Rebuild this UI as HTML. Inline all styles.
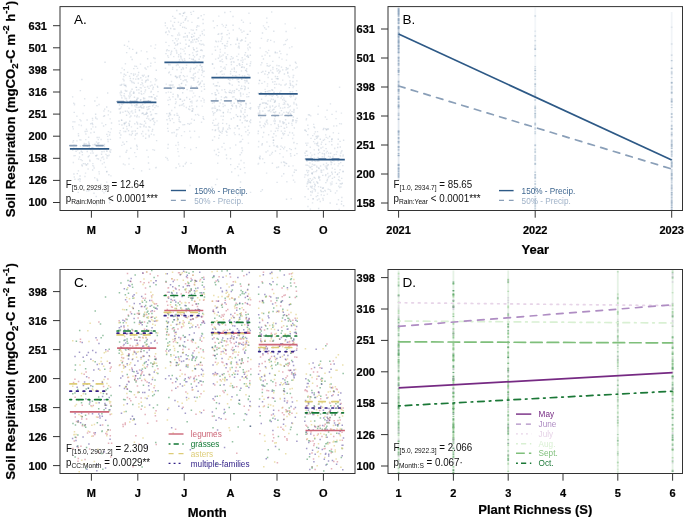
<!DOCTYPE html><html><head><meta charset="utf-8"><style>html,body{margin:0;padding:0;background:#fff;width:685px;height:519px;overflow:hidden}
svg{display:block;will-change:transform}
text{font-family:"Liberation Sans", sans-serif}
.tk{font-size:11px;font-weight:bold;fill:#000;stroke:#000;stroke-width:0.2px}
.yt{font-size:13.25px;font-weight:bold;fill:#000;stroke:#000;stroke-width:0.2px}
.xt{font-size:13px;font-weight:bold;fill:#000;stroke:#000;stroke-width:0.2px}
.pl{font-size:13.5px;fill:#000}
.st{font-size:10.3px;fill:#111}
.lg{font-size:8.2px}
</style></head><body>
<svg width="685" height="519" viewBox="0 0 685 519">
<rect width="685" height="519" fill="#fff"/>
<path d="M96.3 105.62h1.4M106.97 93.03h1.4M102.21 157h1.4M80.63 151.2h1.4M83.57 143.36h1.4M106.04 151.04h1.4M72.01 126.77h1.4M103.99 109.14h1.4M103.05 145.5h1.4M90.14 123.76h1.4M83.68 105.63h1.4M82.71 163.65h1.4M81.79 148.34h1.4M89.25 160.98h1.4M91.58 123.29h1.4M93.5 132.23h1.4M110.82 123.03h1.4M102.87 126.06h1.4M96.19 155.28h1.4M110.57 128.86h1.4M80.24 159.61h1.4M78.08 159.17h1.4M95.81 204.68h1.4M73.52 112.39h1.4M73.2 173.97h1.4M91.98 147.58h1.4M90.08 149.62h1.4M107.75 110.85h1.4M96.47 137.57h1.4M91.95 170.07h1.4M91.28 147.77h1.4M81.5 152.19h1.4M72.26 142.15h1.4M79.34 181.17h1.4M98.93 149.42h1.4M79.66 90.59h1.4M86.29 131.31h1.4M71.95 96.84h1.4M104.34 62.21h1.4M77.85 135.69h1.4M82.29 186.01h1.4M106.31 151.27h1.4M91.78 118.34h1.4M105.01 124.6h1.4M96.88 180.53h1.4M100.88 154.26h1.4M75.39 151.3h1.4M93.01 148.56h1.4M91.7 151.04h1.4M105.96 171.75h1.4M85.96 164.92h1.4M95.25 155.82h1.4M74.12 121.84h1.4M87 163.8h1.4M84.46 131.53h1.4M77.69 179.53h1.4M103.8 115.68h1.4M86.67 146.28h1.4M110.17 149.8h1.4M94.93 114.23h1.4M95.52 196.49h1.4M96.81 189.43h1.4M98.32 137.48h1.4M77.71 170.84h1.4M89.06 160.22h1.4M81.19 79.43h1.4M87.58 156.76h1.4M75.59 148.34h1.4M109.74 152.25h1.4M80.23 120.92h1.4M98.13 142.73h1.4M83.58 145.19h1.4M106.06 182.08h1.4M97.76 159.03h1.4M76.96 149.85h1.4M104.93 191.28h1.4M108.84 135.01h1.4M107.23 139.49h1.4M94.13 100.95h1.4M77.5 192.37h1.4M79.34 176.04h1.4M108.17 174.75h1.4M93.45 168.06h1.4M78.88 152.97h1.4M106.46 155.82h1.4M96.95 143.2h1.4M94.13 144.5h1.4M86.55 151.47h1.4M87.91 190.82h1.4M81.19 165h1.4M73.29 148.42h1.4M106.15 134.36h1.4M90.14 132.86h1.4M93.27 193.27h1.4M84.43 163.68h1.4M101.25 151.82h1.4M72.79 140.65h1.4M86.39 120.06h1.4M72.99 148.19h1.4M76.62 173.59h1.4M109.71 139.4h1.4M97.58 143.86h1.4M88.59 144.03h1.4M92.33 152.96h1.4M106.01 106.99h1.4M85.29 143.64h1.4" stroke="#62809f" stroke-width="1.4" stroke-opacity="0.22" fill="none"/>
<path d="M94.94 126.93h1.4M98.6 173.88h1.4M85.73 129.19h1.4M92.15 165.58h1.4M101.8 191.16h1.4M107.44 141.53h1.4M77.72 133.76h1.4M108.39 155.17h1.4M72 149.95h1.4M101.32 123.17h1.4M103.57 162.44h1.4M77.16 204.42h1.4M88.22 143.03h1.4M103.76 144.52h1.4M72.36 121.79h1.4M96.44 158.62h1.4M102.89 116.33h1.4M91.91 120.11h1.4M100.25 184.55h1.4M80.68 125.55h1.4M79.58 179.2h1.4M86.03 191.16h1.4M78.83 157h1.4M85.37 164.94h1.4M108.97 202.71h1.4M94.27 144.69h1.4M85.13 133.99h1.4M82.44 113.46h1.4M109.12 151.13h1.4M89.22 189.94h1.4M110.23 175.91h1.4M92.01 124.56h1.4M92.23 126.9h1.4M106.94 136.39h1.4M100.92 157.89h1.4M94.56 144.46h1.4M88.52 155.79h1.4M106.22 158.01h1.4M87.94 141.93h1.4M107.97 148.92h1.4M74.49 155.58h1.4M88.66 147.73h1.4M92.16 163.6h1.4M109.08 200.51h1.4M81.64 165.98h1.4M103.4 151.51h1.4M98.32 104.47h1.4M99.91 160.47h1.4M96.48 97.44h1.4M109.89 111.96h1.4M84.84 173.08h1.4M87.41 169.07h1.4M79.75 145.95h1.4M73.79 103.83h1.4M80.15 139.97h1.4M107.69 131.67h1.4M104.73 167.19h1.4M95.47 155.86h1.4M90.58 128.96h1.4M95.11 118.4h1.4M97.64 148.49h1.4M83.82 145.23h1.4M109.48 118.91h1.4M90.06 153.14h1.4M96.42 118.93h1.4M96.7 180.03h1.4M79.01 178.69h1.4M74.23 179.29h1.4M87.93 137.2h1.4M101.75 163.89h1.4M103.76 146.43h1.4M100.42 139.5h1.4M76.24 140.84h1.4M107.6 114.91h1.4M103.24 111.02h1.4M106.21 171.45h1.4M92.31 144.84h1.4M107.69 155.84h1.4M73.63 177.05h1.4M72.99 103.21h1.4M72.59 128.83h1.4M81.71 154.73h1.4M81.54 160.59h1.4M79.15 139.82h1.4M94.03 177.79h1.4M73.33 155.68h1.4M94.94 117.24h1.4M78.31 124.87h1.4M98.37 171.75h1.4M72.63 162.52h1.4M83.97 98.73h1.4M108.58 186.39h1.4M92.91 166.15h1.4M103.61 186.27h1.4M97.59 139.64h1.4M95.74 142.02h1.4M79.3 119.59h1.4M73.36 145.26h1.4M103.23 192.86h1.4M109.43 132.52h1.4M105.28 154.42h1.4M73.79 104.87h1.4M85.08 139.66h1.4M84.27 176.56h1.4M76.22 116.2h1.4M96.36 178.95h1.4M103.06 159.11h1.4" stroke="#96a8be" stroke-width="1.4" stroke-opacity="0.28" fill="none"/>
<path d="M154.74 113.66h1.4M119.75 112.11h1.4M135.95 145.26h1.4M142.94 98.81h1.4M139.79 64.13h1.4M121.11 84.34h1.4M141.45 80.1h1.4M126.91 72.34h1.4M125.87 115.32h1.4M152.64 87.22h1.4M125.96 52.59h1.4M136.01 122.12h1.4M147.61 101.1h1.4M145.93 113.28h1.4M139.9 106.75h1.4M149.84 120.42h1.4M136.46 104.99h1.4M142.52 136.14h1.4M150.3 115.05h1.4M144.78 114.19h1.4M143.36 114.66h1.4M134.12 66.13h1.4M140.09 99.72h1.4M133.73 97.26h1.4M147.38 109.4h1.4M133.11 68.67h1.4M136.49 146.49h1.4M147.81 106.71h1.4M137.94 72.51h1.4M131.45 59.57h1.4M150.61 96.69h1.4M133.13 101.67h1.4M151.31 85.32h1.4M148.98 106.39h1.4M135.73 87.33h1.4M146.15 118.34h1.4M119.55 85.16h1.4M133.48 103h1.4M151.93 129.45h1.4M140.92 170.86h1.4M140.07 77.8h1.4M144.26 91.92h1.4M144.76 82.16h1.4M141.08 124.39h1.4M134.69 74.15h1.4M125.39 91.41h1.4M129.67 103.23h1.4M129.68 78.55h1.4M135.09 79.11h1.4M157.36 91.63h1.4M132.02 49.39h1.4M135.74 66.42h1.4M132.77 93.26h1.4M140.99 107.85h1.4M155.36 99.17h1.4M153.05 57.88h1.4M132.98 91.94h1.4M128.66 124.76h1.4M152.87 118.45h1.4M137.56 101.95h1.4M145.07 80.93h1.4M121.07 120.41h1.4M152.17 88.95h1.4M130.47 73.6h1.4M137.59 83.14h1.4M125.96 141.66h1.4M134.67 109.72h1.4M150.66 134.14h1.4M150.64 91.54h1.4M136.77 128.39h1.4M148.3 88.36h1.4M136.16 99.91h1.4M132.84 168.65h1.4M139.6 123.95h1.4M126.09 90.97h1.4M130.61 101.79h1.4M145.9 112.48h1.4M148.4 135.47h1.4M120.42 91.28h1.4M146.93 58.73h1.4M150.24 96.73h1.4M135.65 104.4h1.4M120.65 106.85h1.4M144.97 138.23h1.4M127.85 112.23h1.4M143.42 125.14h1.4M132.96 75.37h1.4M143.18 126.57h1.4M128.32 158.5h1.4M136.88 124.1h1.4M138.77 110.59h1.4M142.94 108h1.4M126.16 150.47h1.4M155.91 79.89h1.4M129.53 101.11h1.4M130.2 115.97h1.4M128.25 123.34h1.4M120.85 92.63h1.4M134.78 111.99h1.4M148.46 96.77h1.4M146.02 107.13h1.4M125.87 100.57h1.4M123.57 74.32h1.4M130.8 103.45h1.4M148.32 126.81h1.4M137.33 78.86h1.4M154.39 97.73h1.4M143.93 121.28h1.4M142.54 76.18h1.4M148.29 108.75h1.4M147.61 76.44h1.4M131.68 133.5h1.4M128.27 164.13h1.4M135.35 156.58h1.4M137.38 98.3h1.4M123.76 123.25h1.4M135.5 107.15h1.4M143.28 106.65h1.4M123.52 144.24h1.4M123.61 69.7h1.4M125.01 131.44h1.4M129.31 102.73h1.4M155.9 140.62h1.4M119.21 108.87h1.4M125.4 86.51h1.4M124.67 111.21h1.4M136.79 123.14h1.4M118.79 104.93h1.4M136.16 116.69h1.4M124.59 90.44h1.4M128.77 48.52h1.4M149.26 127.4h1.4M125.42 122.18h1.4M142.39 107.85h1.4M134.13 105.78h1.4M134.57 130.94h1.4M150.22 92.12h1.4M124.51 85.63h1.4M154.41 99.1h1.4M153.22 134.92h1.4M144.4 67.94h1.4M120.14 134.99h1.4M144.2 87.38h1.4M141.73 75.38h1.4M148.47 136.76h1.4M126.58 101.48h1.4M155.57 70.19h1.4M152.94 94.67h1.4M122.68 128.21h1.4M130.56 134.99h1.4M119.47 92.9h1.4M150.77 114.56h1.4M154.07 122.57h1.4M157 87.24h1.4M142.19 113.23h1.4M144.31 103.17h1.4M144.79 90.06h1.4M140.55 91.2h1.4M155.53 105.74h1.4M142.03 104.78h1.4M131.36 89.3h1.4M138.3 92.93h1.4M118.93 132.95h1.4M146.59 109.56h1.4M145.4 127.01h1.4M134.71 135.25h1.4M151.58 119.31h1.4M147.82 163.04h1.4M131.4 82.54h1.4M121.24 125.02h1.4M123.38 95.73h1.4M125.42 152.25h1.4M130.11 148.21h1.4M135.74 53.19h1.4M154.58 78.81h1.4M129.11 121.27h1.4M153.42 124.54h1.4M144.87 123.15h1.4M151.66 102.16h1.4M134.01 115.83h1.4M118.33 120.98h1.4M149.05 101.98h1.4M127.82 130.71h1.4M123.79 45.25h1.4M149.54 120.48h1.4" stroke="#62809f" stroke-width="1.4" stroke-opacity="0.22" fill="none"/>
<path d="M145.1 77.11h1.4M126.53 128.93h1.4M128.69 98.05h1.4M155.02 80.89h1.4M128.73 113.72h1.4M145.73 80.31h1.4M123.28 80.27h1.4M150.15 63.25h1.4M122.81 103.31h1.4M138.43 116.92h1.4M119.58 130.6h1.4M139.76 100.32h1.4M151.39 131.24h1.4M121.51 104.47h1.4M128.95 101.57h1.4M148.18 118.91h1.4M142.04 131.52h1.4M130.46 95.12h1.4M142.85 97.66h1.4M136.02 99.82h1.4M152 106.15h1.4M129.68 80.59h1.4M147.9 130.73h1.4M143.12 93.59h1.4M147.22 116.02h1.4M133.03 82.54h1.4M146.62 113.33h1.4M145.58 114.18h1.4M133.39 93.06h1.4M119.24 156.54h1.4M155.95 113.65h1.4M146.17 150.2h1.4M126.23 128.94h1.4M146.85 86.78h1.4M129.12 94.06h1.4M136.6 115.34h1.4M151.91 105.59h1.4M135.76 105.29h1.4M129.49 96.56h1.4M130.18 56.98h1.4M121.22 98.14h1.4M126.8 46.33h1.4M128.83 113.67h1.4M124.98 85.12h1.4M120.67 85.4h1.4M136.46 98.3h1.4M126.6 111.09h1.4M147.16 66.77h1.4M154.36 58.54h1.4M128.9 76.28h1.4M140.63 50.92h1.4M138.06 78.86h1.4M121.14 145.36h1.4M123.1 76.53h1.4M152.88 120.94h1.4M136.79 68.34h1.4M149.74 111.78h1.4M120.81 95.69h1.4M141.52 102.44h1.4M152.12 118.79h1.4M152.19 149.66h1.4M118.42 109.06h1.4M138.65 107.23h1.4M132.66 78.69h1.4M147.99 119.17h1.4M121.07 97.6h1.4M128.59 125.63h1.4M150.06 102.86h1.4M136.61 149.26h1.4M135.96 52.44h1.4M156.17 96.29h1.4M130.74 126.92h1.4M119.84 94.88h1.4M133.57 83.4h1.4M124.21 97.09h1.4M121.41 68.12h1.4M140.46 107.09h1.4M155.58 167.45h1.4M140.91 133.77h1.4M143.57 75.17h1.4M130.89 81.29h1.4M140.59 93.48h1.4M147.69 130.11h1.4M141.3 82.64h1.4M149.67 86.05h1.4M139.78 127h1.4M125.97 126.48h1.4M141.04 94.28h1.4M137.44 74.94h1.4M124.7 63.71h1.4M142.47 85.83h1.4M150.22 46.01h1.4M123.5 123.5h1.4M139.56 87.62h1.4M146.96 116.51h1.4M134 152.58h1.4M128.79 134.5h1.4M132.79 74.07h1.4M139.43 126.6h1.4M145.12 134.1h1.4M140.12 84.59h1.4M122.4 79.21h1.4M150.26 101.15h1.4M154.42 62.36h1.4M122.17 142.24h1.4M127.98 41.46h1.4M125.01 75.22h1.4M151.49 96.99h1.4M153.88 98.1h1.4M119.94 108.32h1.4M131.23 111.06h1.4M125.75 98.45h1.4M136.61 133.56h1.4M154.33 48.38h1.4M120.95 104h1.4M124.91 85.42h1.4M137.29 107.45h1.4M138.74 109.74h1.4M147.42 80.29h1.4M135.36 87.34h1.4M123.73 124.61h1.4M132.06 113.08h1.4M156.7 86.31h1.4M147.63 157.04h1.4M122.76 164.04h1.4M149.88 65.98h1.4M130.39 111.85h1.4M148.83 169.23h1.4M118.7 124.38h1.4M152.35 109.75h1.4M124.56 98.59h1.4M136.07 89.93h1.4M144.14 98.47h1.4M138.11 89.68h1.4M124.68 123.37h1.4M123.65 93.65h1.4M129.35 92.53h1.4M120.25 72.74h1.4M126.69 102.71h1.4M123.3 80.75h1.4M136.42 99.3h1.4M132.18 131.09h1.4M141.2 113.51h1.4M129.21 117.12h1.4M119.53 113.26h1.4M131.18 105.54h1.4M147.8 100.69h1.4M128.23 96h1.4M134.06 123.74h1.4M147.79 75.81h1.4M134.14 138.86h1.4M152.98 104.89h1.4M154.19 84.53h1.4M130.37 91.28h1.4M147.05 86.4h1.4M128.12 108.17h1.4M123.67 85.34h1.4M135.36 133.7h1.4M141.82 83.68h1.4M154.88 44.91h1.4M123.92 84.99h1.4M146.12 51.78h1.4M136.84 102.96h1.4M123.36 131.54h1.4M156.33 120.84h1.4M145.47 69.22h1.4M123.25 84.18h1.4M153.71 150.24h1.4M122.24 112.28h1.4M121.83 104.11h1.4M131.2 131.46h1.4M154.97 167.77h1.4M119.49 137.71h1.4M154.19 107.62h1.4M142.18 113.22h1.4M120.83 120.04h1.4M140.49 88.07h1.4M136.18 76.47h1.4M140.31 105.36h1.4M147.1 79.37h1.4M144.8 102.4h1.4M157.29 106.5h1.4M124.34 164.87h1.4M150.06 81.87h1.4M134.31 100.83h1.4" stroke="#96a8be" stroke-width="1.4" stroke-opacity="0.28" fill="none"/>
<path d="M200.48 15.79h1.4M196 106.5h1.4M170.91 51.3h1.4M183.31 88.19h1.4M183.88 124.61h1.4M203.39 100.05h1.4M168.01 72.89h1.4M184.62 163.9h1.4M200.44 100.83h1.4M180.23 56.69h1.4M174.86 103.61h1.4M186.39 89.61h1.4M177.15 35.04h1.4M200.94 75.15h1.4M167.92 64.88h1.4M167.89 64.56h1.4M192.51 59.78h1.4M176.09 53.07h1.4M199.63 56.68h1.4M201.31 70.29h1.4M174.64 76.4h1.4M164.63 22.97h1.4M179.79 99.31h1.4M202.33 19.51h1.4M194.54 62.34h1.4M166.94 128.35h1.4M192.14 42.11h1.4M200.55 49.95h1.4M202.53 118.34h1.4M192.67 55.42h1.4M198.43 59.18h1.4M197.59 81.55h1.4M178.65 117.29h1.4M193.12 36.25h1.4M169.97 28.53h1.4M179.66 25.19h1.4M203.63 35.13h1.4M186.54 35.81h1.4M185.05 84.99h1.4M201.76 33.69h1.4M175.73 77.27h1.4M203.78 89.28h1.4M200.35 40.58h1.4M178.87 77.62h1.4M177.43 142.46h1.4M169.56 85.86h1.4M200.49 44.57h1.4M171.88 69.21h1.4M164.95 32.61h1.4M199.49 83.64h1.4M188.05 109.06h1.4M190.94 36.81h1.4M193.34 63.01h1.4M166.27 119.77h1.4M168.2 50.64h1.4M184.19 80.07h1.4M166.57 28.06h1.4M184.37 36.85h1.4M193.46 50.01h1.4M190.37 163.41h1.4M188.77 54.82h1.4M166.42 49.74h1.4M173.88 48.35h1.4M199.78 65.04h1.4M169.43 99.55h1.4M185.5 79.96h1.4M166.56 158.43h1.4M201.42 80.98h1.4M171.33 132.79h1.4M180.67 83.62h1.4M186.03 97.43h1.4M192.77 11.37h1.4M201.35 66.66h1.4M193.47 69.1h1.4M178.22 61.8h1.4M192.33 108.99h1.4M202.72 55.74h1.4M165.27 53.6h1.4M194.97 61.28h1.4M171.5 62.42h1.4M182.63 89.1h1.4M185.09 18.62h1.4M188.69 32.9h1.4M203.39 84.21h1.4M191.55 78.11h1.4M179.98 56.18h1.4M192.63 47.9h1.4M182.9 36.95h1.4M180.79 69.55h1.4M178.93 121.59h1.4M183.94 27.56h1.4M175.62 135.98h1.4M174.09 107.45h1.4M170.42 52.98h1.4M181.86 104.89h1.4M176.1 10.43h1.4M197.84 17.83h1.4M178.08 54.79h1.4M188.87 58.33h1.4M199.97 50.36h1.4M178.68 76.18h1.4M181.99 92.8h1.4M190.09 12.39h1.4M202.22 44.24h1.4M170.03 54.66h1.4M202.44 23.44h1.4M190.7 14.42h1.4M195.8 29.74h1.4M189.5 71.5h1.4M198.72 96.78h1.4M177.39 95.7h1.4M192.36 30.23h1.4M174.95 38.75h1.4M184.54 33.33h1.4M191.31 90.89h1.4M167 124.01h1.4M195.61 51.64h1.4M196.31 39.09h1.4M190.69 86.26h1.4M177.2 115.37h1.4M190.4 86.39h1.4M167.89 116.22h1.4M190.57 77.64h1.4M187.19 123.64h1.4M188.79 124.3h1.4M182.12 67.82h1.4M173.43 132.45h1.4M193.05 78.92h1.4M182.79 75.65h1.4M193.82 33.3h1.4M178.88 59.87h1.4M168.04 104.66h1.4M185.86 16.87h1.4M189.01 99.28h1.4M200.73 86.64h1.4M199.4 83.66h1.4M194.86 67.66h1.4M174.85 99.23h1.4M191.93 39.96h1.4M179.48 75.79h1.4M183.74 100.2h1.4M185.4 44.18h1.4M191.82 108.6h1.4M191.19 101.08h1.4M179.66 62.05h1.4M191.15 105.92h1.4M178.14 33.12h1.4M188.42 46.02h1.4M182.61 166.18h1.4M186.66 37.14h1.4M165.29 42.35h1.4M184.15 60.38h1.4M173.22 29.05h1.4M179.72 122h1.4M167.49 144.45h1.4M190.35 42.43h1.4M178.5 121.22h1.4M168.72 118.55h1.4M188.91 106.51h1.4M169.58 120.57h1.4M199.55 35.56h1.4M169.4 64.92h1.4M178.79 13.87h1.4M183.99 12.44h1.4M169.22 113.21h1.4M177.09 43.78h1.4M175.39 167.74h1.4M192.56 75.12h1.4M203.26 45.1h1.4M178.82 105.51h1.4M195.6 147.65h1.4M170.1 92.42h1.4M187.33 20.88h1.4M181.56 87.58h1.4M175.9 129.78h1.4M196.81 51.28h1.4M193.86 39.51h1.4M169.85 114.69h1.4M176.06 77.88h1.4M196.72 25.69h1.4M203.5 56.05h1.4M188.57 40.26h1.4M198.77 84.44h1.4M203.18 76.61h1.4M193.63 120.32h1.4M189.87 101.81h1.4M179.12 89.09h1.4M189.04 109.67h1.4M200.91 91.15h1.4M176.43 115.26h1.4M180.09 48.92h1.4M165.47 32.07h1.4M191.91 111.06h1.4M181.99 27.25h1.4M173.76 115.06h1.4M190.46 41.58h1.4M190.99 59.15h1.4M182.8 13.28h1.4M171.99 16.33h1.4M180.39 23.42h1.4M193.81 56.85h1.4M172.02 87.54h1.4M182.74 103.59h1.4M173.79 22.36h1.4" stroke="#62809f" stroke-width="1.4" stroke-opacity="0.22" fill="none"/>
<path d="M195.98 27.21h1.4M196.64 100.47h1.4M201.65 68.87h1.4M189.98 149.47h1.4M171.93 35.85h1.4M196.86 82.39h1.4M193.14 80.4h1.4M193.88 131.28h1.4M191.94 52.86h1.4M197.14 114.34h1.4M176.28 40.84h1.4M190.96 119.13h1.4M184.88 39.95h1.4M177.84 56.79h1.4M177.41 151.63h1.4M170.69 85.31h1.4M183.87 76.61h1.4M179.05 166.17h1.4M181.12 87.18h1.4M197.99 37.72h1.4M191.32 102.85h1.4M191.27 22.37h1.4M203.17 119.39h1.4M173.14 122.65h1.4M184.51 47.94h1.4M168.23 45.63h1.4M180 79.41h1.4M201.85 72.59h1.4M167.97 30.94h1.4M194.3 95.86h1.4M184.55 53.82h1.4M195.87 55.03h1.4M181.89 60.52h1.4M178.45 84.9h1.4M184.42 20.42h1.4M172.23 96.72h1.4M176.65 64.43h1.4M176.57 44.69h1.4M203.35 14.59h1.4M177.74 22.31h1.4M173.57 87.13h1.4M201.44 31.52h1.4M170.03 74.7h1.4M202.46 116.6h1.4M198.05 115.37h1.4M189.96 137.54h1.4M181.37 59.56h1.4M172.33 26.42h1.4M168.76 114.86h1.4M168.66 85h1.4M178.29 119.21h1.4M180.56 72.46h1.4M200.81 122.22h1.4M185.62 107.55h1.4M203.43 102.09h1.4M192.86 93.15h1.4M170.33 88.7h1.4M186.3 81.79h1.4M170.85 81.49h1.4M166.14 113.59h1.4M201.6 50.5h1.4M177.84 144.9h1.4M172.03 67.54h1.4M168.59 113.39h1.4M190.16 68.21h1.4M182.68 61.64h1.4M165.06 157.35h1.4M192.64 59.01h1.4M174.66 18.36h1.4M195.2 42.01h1.4M183.75 58.68h1.4M185.59 162.52h1.4M182.52 80.68h1.4M191.1 111.26h1.4M203.41 29.93h1.4M195.88 86.81h1.4M167.31 100.2h1.4M184 147.67h1.4M173.78 42.76h1.4M168.61 97.35h1.4M172.25 84.71h1.4M174.33 29.09h1.4M202.22 71.18h1.4M193.8 60.93h1.4M191.99 97.14h1.4M176.97 94.69h1.4M179.93 53.56h1.4M181.87 15.78h1.4M176.1 134.15h1.4M181.12 83.17h1.4M194.83 114.7h1.4M167.57 131.23h1.4M175.44 50.12h1.4M183.38 106.11h1.4M191.11 61.87h1.4M189.92 69.37h1.4M193.02 68.4h1.4M168.73 71.94h1.4M171.69 118.79h1.4M176.71 77.2h1.4M175.64 65.54h1.4M194.22 60.39h1.4M203.54 86.34h1.4M191.38 34.42h1.4M165.9 50.89h1.4M176.27 69.8h1.4M196.08 48.23h1.4M200.83 67.02h1.4M187.92 46.35h1.4M178.27 156.17h1.4M178.52 127.82h1.4M189.43 90.9h1.4M198.48 69.75h1.4M177.96 164.01h1.4M172.08 85.56h1.4M164.71 68.35h1.4M169.99 84.73h1.4M197.97 84.85h1.4M189.08 131.23h1.4M203.43 71.2h1.4M167.32 160.17h1.4M178.95 34.96h1.4M195.79 101.15h1.4M190.52 29.92h1.4M167.21 148.32h1.4M180.34 58.12h1.4M189.6 69.56h1.4M191.56 110.82h1.4M182.31 124.72h1.4M171.98 25.3h1.4M202.46 57.46h1.4M182.89 13.41h1.4M192.72 77.77h1.4M185.57 67.74h1.4M167.76 57.34h1.4M173.88 43.25h1.4M167.07 55.79h1.4M172.08 40.65h1.4M172.45 94.22h1.4M180.86 135.67h1.4M178.81 67.13h1.4M196.62 54.44h1.4M165.44 92.68h1.4M168.65 32.03h1.4M196.27 65.85h1.4M185.53 28.34h1.4M181.8 101.26h1.4M175.08 76.17h1.4M185.86 65.22h1.4M173.29 87.55h1.4M198.25 61.65h1.4M177.22 97.02h1.4M165.56 84.11h1.4M199.4 65.53h1.4M176.31 113.37h1.4M190.35 123.18h1.4M198.24 26.12h1.4M195.9 39.19h1.4M198.41 136.99h1.4M183.77 131.59h1.4M197.62 40.99h1.4M182.68 22.41h1.4M174.94 45.22h1.4M183.45 51.08h1.4M194.67 73.31h1.4M197.2 18.23h1.4M170.13 21.16h1.4M171.05 110.48h1.4M179.64 43.31h1.4M182.76 69h1.4M202.09 98.42h1.4M201.51 106.16h1.4M202.51 57.85h1.4M193.21 73.85h1.4M191.15 37.33h1.4M175.2 145.39h1.4M179.21 99.3h1.4M164.71 25.66h1.4M197.25 72.17h1.4M175.42 101.97h1.4M167.71 92.14h1.4M176.97 148.83h1.4M177.27 129.64h1.4M192.98 49.35h1.4M164.82 68.25h1.4M173.62 18.18h1.4M199.74 82.48h1.4M198.11 78.34h1.4M189.26 185.55h1.4M186.51 76.1h1.4M198.9 43.77h1.4M194.42 76.72h1.4M184.71 19.25h1.4M170.91 35.58h1.4M173.06 56.64h1.4M179.47 86.36h1.4M177.58 65.06h1.4M166.99 34.65h1.4M180.53 105.08h1.4M182.19 49.34h1.4M175.85 51.03h1.4M179.66 14.05h1.4M177.63 38.99h1.4M179.37 99.37h1.4" stroke="#96a8be" stroke-width="1.4" stroke-opacity="0.28" fill="none"/>
<path d="M244.38 109.7h1.4M211.13 187.27h1.4M241.81 75.9h1.4M237.16 101.47h1.4M211.75 103.1h1.4M239.81 92.95h1.4M237.39 59.74h1.4M223.29 143.39h1.4M244.76 77.84h1.4M219.24 56.9h1.4M227.73 79.26h1.4M215.51 94.66h1.4M236.31 65.6h1.4M214.41 85.89h1.4M218.04 33.83h1.4M241.04 78.99h1.4M230.61 119.03h1.4M236.95 166.77h1.4M239.77 116.26h1.4M234.78 98.88h1.4M218.75 135.35h1.4M238.38 128.76h1.4M215.54 154.55h1.4M221.58 131.31h1.4M228.57 83.29h1.4M215.49 98.34h1.4M215.15 95.17h1.4M236.57 100.09h1.4M240.08 96.01h1.4M225.53 56.7h1.4M219.14 61.13h1.4M233.75 90.72h1.4M247.6 88.18h1.4M212.59 20.98h1.4M246.62 115.53h1.4M249.83 122.67h1.4M224.57 91.83h1.4M239.45 154.71h1.4M243.33 162.87h1.4M236.52 39.76h1.4M222.33 129.47h1.4M235.42 105.63h1.4M245.37 104.73h1.4M215.2 125.38h1.4M229.81 59.23h1.4M211.89 64.31h1.4M244.12 54.93h1.4M241.52 57.8h1.4M212.8 84.06h1.4M240.24 29.93h1.4M238.11 46.17h1.4M215.95 111.1h1.4M231.59 85.16h1.4M238.02 103.32h1.4M224.15 12.43h1.4M230.75 56.65h1.4M249.26 65.78h1.4M235.92 89.3h1.4M230.68 64.55h1.4M213.59 125.33h1.4M215.75 85.67h1.4M244.35 88.68h1.4M240.11 88.54h1.4M243.74 116.32h1.4M233.66 69.14h1.4M233.58 132.9h1.4M231.8 106.4h1.4M239.82 94.16h1.4M223.94 89.67h1.4M230.47 108.81h1.4M229.41 128.62h1.4M236.94 125.82h1.4M219.48 103.03h1.4M211.98 123.07h1.4M214.47 92.73h1.4M218.03 138.1h1.4M244.6 86.94h1.4M240.4 141.52h1.4M228.41 92.31h1.4M215.03 41.16h1.4M229.24 80.07h1.4M244.83 52.65h1.4M230.96 172.01h1.4M235.77 107.91h1.4M225.67 25.25h1.4M216.88 109.85h1.4M235.56 72.05h1.4M230.01 164.67h1.4M224.55 45.89h1.4M238.28 90.63h1.4M223.46 74.08h1.4M233.58 71.34h1.4M240.53 105.07h1.4M225.7 154.93h1.4M229.76 11.64h1.4M247.36 134.85h1.4M239.16 65.25h1.4M239.86 181.96h1.4M224.3 105.44h1.4M243.94 80.49h1.4M226.12 132.22h1.4M249.74 109.04h1.4M246.12 64.3h1.4M236.84 116.41h1.4M243.59 67.57h1.4M232.33 16.46h1.4M239.74 169.26h1.4M215.89 74.02h1.4M249.75 63.64h1.4M242.37 101.55h1.4M216.58 25.61h1.4M220.51 33.86h1.4M233.54 68.01h1.4M240.9 67.21h1.4M216.84 90.88h1.4M248.66 132.9h1.4M224.56 69.04h1.4M250 107.71h1.4M240.5 112.06h1.4M230.03 44.64h1.4M225.22 97.14h1.4M214.78 50.29h1.4M214.45 130.56h1.4M235.67 106.2h1.4M241.32 88.66h1.4M246.58 34.41h1.4M225.31 92.64h1.4M247.76 57.32h1.4M222.64 116.24h1.4M247.84 83.23h1.4M247.02 55.51h1.4M217.08 125.02h1.4M244.74 116.86h1.4M238.58 64.27h1.4M238.54 134.48h1.4M243.94 76.06h1.4M232.04 75.63h1.4M230.87 92.95h1.4M225.39 57.89h1.4M244.92 70.33h1.4M246.32 81.58h1.4M217.29 149.21h1.4M241.27 147.99h1.4M221.8 77.65h1.4M218.21 152.42h1.4M218.73 86.27h1.4M233.47 103.22h1.4M221.97 123.34h1.4M220.5 99.68h1.4M214.86 184.61h1.4M223.73 97.73h1.4M241.34 40.1h1.4M211.85 140.22h1.4M229.92 71.52h1.4M234.63 75.83h1.4M222.52 128.04h1.4M246.53 120.74h1.4M249.98 119.96h1.4M244.33 127.14h1.4M217.65 155.64h1.4M240.95 86.16h1.4M228.67 125.5h1.4M217.69 58.25h1.4M229.85 73.85h1.4M247.18 130.27h1.4M245.39 103.64h1.4M226.35 34.66h1.4M213.48 102.45h1.4M246.3 80.68h1.4M249.66 55.25h1.4M231.05 105.37h1.4M219.83 71.82h1.4M232.32 25.18h1.4M238.29 43.55h1.4M229.9 158.77h1.4M224.82 27.4h1.4M220.71 96.91h1.4M222.64 112.4h1.4M212.95 113.57h1.4M221 38.98h1.4M248.36 75.14h1.4M211.32 93.63h1.4M239.52 120.01h1.4M241.93 62.2h1.4M226.86 41.46h1.4M234.33 128.1h1.4M219.66 132.21h1.4M237.19 102.8h1.4M238.75 63.65h1.4M239.8 104.27h1.4M230.28 92.37h1.4M249.04 121.51h1.4M244.96 38.04h1.4M233.44 92.65h1.4M237.75 81.64h1.4M221.77 43.61h1.4M247.99 96.63h1.4M236.29 89.4h1.4M246.08 71.59h1.4M222.31 103.84h1.4M249.51 31.25h1.4M215.13 85.85h1.4M231.79 105.26h1.4M215.33 99.36h1.4M218.44 131.06h1.4" stroke="#62809f" stroke-width="1.4" stroke-opacity="0.22" fill="none"/>
<path d="M240.95 39.96h1.4M213.59 27.68h1.4M226 97.56h1.4M218.51 106.21h1.4M244.33 172.79h1.4M214.23 112.66h1.4M224.19 53.04h1.4M244.56 120.24h1.4M237.93 54.17h1.4M238.57 28.57h1.4M249.85 192.36h1.4M211.92 101.03h1.4M237.06 116.6h1.4M240.2 110.54h1.4M240.33 160.48h1.4M238.99 99.36h1.4M213.83 136.71h1.4M214.29 46.91h1.4M241.29 32.31h1.4M234.98 145.06h1.4M221.3 146.99h1.4M211.36 108.43h1.4M231.91 97.04h1.4M214.54 94.65h1.4M240.34 60.47h1.4M224.36 149.55h1.4M242.65 114.36h1.4M214.75 108.24h1.4M230.36 103.05h1.4M214.91 129.92h1.4M241.59 108.2h1.4M232.95 117.81h1.4M220.2 41.24h1.4M248.74 108.4h1.4M237.73 175.49h1.4M224.18 67.26h1.4M244.53 82.85h1.4M225.9 123.68h1.4M247.94 126.29h1.4M222.65 112.98h1.4M249.59 23.3h1.4M213.45 108.07h1.4M239.8 40.65h1.4M222.42 55.01h1.4M227.62 109.92h1.4M235.94 76.17h1.4M212.8 120.38h1.4M215.08 119.09h1.4M239.99 116.91h1.4M219.67 52.17h1.4M230.53 62.28h1.4M223.88 45.45h1.4M220.26 66.7h1.4M247.66 44.33h1.4M230.89 61.61h1.4M236.5 79.65h1.4M238.61 47.98h1.4M243.19 31.24h1.4M221.32 33.54h1.4M214.08 106.16h1.4M229.32 90.39h1.4M217.66 129.04h1.4M211.8 129.78h1.4M247.05 74.37h1.4M235.56 114.8h1.4M227.24 30.38h1.4M216.35 179.32h1.4M240.84 135.82h1.4M231.89 79.4h1.4M217.83 41.47h1.4M249.51 103.2h1.4M248.27 13.2h1.4M247.34 56.83h1.4M243.4 117.95h1.4M231.84 91.02h1.4M222.78 68.36h1.4M236.55 126.03h1.4M216.93 46.45h1.4M235.18 99.39h1.4M213.59 68.08h1.4M211.53 54.11h1.4M239.05 106.54h1.4M224.43 48.28h1.4M238.33 164.08h1.4M241.57 64.61h1.4M243.74 167.59h1.4M235.14 44.24h1.4M244.19 112.24h1.4M236.83 40.02h1.4M247.35 34.36h1.4M246.16 94.39h1.4M212.7 115.1h1.4M221.49 37.03h1.4M226.24 135.37h1.4M220.89 56.1h1.4M217.93 93.25h1.4M245.24 103.19h1.4M211.98 111.79h1.4M218.13 16.09h1.4M240.8 152.74h1.4M219.75 110.47h1.4M221.13 70.98h1.4M248.92 47.03h1.4M240.9 20.24h1.4M228.59 33.54h1.4M216.34 109.8h1.4M221.55 74.36h1.4M249.46 42.74h1.4M242.01 66.92h1.4M213.74 150.56h1.4M238.71 74.77h1.4M225.74 64.62h1.4M239.22 142.02h1.4M222.58 106.48h1.4M216.1 89.77h1.4M211.77 63.69h1.4M222.59 25.9h1.4M244.73 41.18h1.4M245.94 68.78h1.4M237.78 79.21h1.4M240.32 102.25h1.4M218.63 110.07h1.4M224.89 96.92h1.4M246.25 96.82h1.4M249.66 47.7h1.4M241.42 67.16h1.4M247.59 49.83h1.4M250.08 61.89h1.4M222.59 77.02h1.4M236.64 38.26h1.4M226.29 43.58h1.4M229.23 83.99h1.4M229.11 92.63h1.4M221.92 61.76h1.4M211.75 107.93h1.4M241.05 79.22h1.4M238.28 47.2h1.4M243.95 89.63h1.4M217.01 163.3h1.4M220.29 61h1.4M234.37 134.65h1.4M247.72 143.11h1.4M229.49 147.93h1.4M218.87 55.09h1.4M234.31 168.61h1.4M248.53 92.65h1.4M245.03 77.85h1.4M246.24 78.79h1.4M227.09 112.06h1.4M221.28 90.05h1.4M245.13 80.92h1.4M241.89 139.34h1.4M244.37 59.09h1.4M226.34 46.27h1.4M222.22 119.72h1.4M220.42 116.14h1.4M245.13 131.76h1.4M247.04 45.11h1.4M225.39 131.26h1.4M245.28 107.28h1.4M225.95 158.5h1.4M228.56 38.07h1.4M233.21 96.73h1.4M219.68 76.9h1.4M221.48 24.41h1.4M221.45 59.4h1.4M221.19 133.08h1.4M231.21 69.24h1.4M214.94 59.1h1.4M241.59 122.73h1.4M217.85 127.56h1.4M228.4 127.47h1.4M236.16 56.41h1.4M216.41 85.68h1.4M227.04 129.23h1.4M233.08 61.76h1.4M232.57 58.03h1.4M245.99 121.13h1.4M241.77 150.49h1.4M215.74 41.92h1.4M232.55 29.99h1.4M237.58 47.5h1.4M217.27 82.49h1.4M229.5 112.63h1.4M238.44 82.14h1.4M242.26 59.99h1.4M242.59 94.13h1.4M219.51 49.53h1.4M243.64 86.12h1.4M233.28 62.34h1.4M237.21 195.21h1.4M244.38 120.67h1.4M226.89 54.6h1.4M247.05 48.12h1.4M245.55 70.47h1.4M242.66 22.2h1.4M225.89 58.78h1.4M231.71 58.47h1.4M217.79 123.36h1.4M240.77 70.94h1.4M245.92 56.38h1.4M217.31 34.38h1.4M240.19 40.93h1.4M238.21 85.35h1.4M212.43 79.39h1.4" stroke="#96a8be" stroke-width="1.4" stroke-opacity="0.28" fill="none"/>
<path d="M290.19 114.43h1.4M278.82 71.83h1.4M259.42 156.31h1.4M274.26 81.64h1.4M272.11 61.42h1.4M296.42 67.03h1.4M284.08 107.54h1.4M273.28 145.44h1.4M271.7 152.38h1.4M287.49 116.06h1.4M261.15 62.73h1.4M289.43 83.12h1.4M283.7 73.96h1.4M274.46 101.29h1.4M285.24 40.65h1.4M272.99 112.28h1.4M263.01 132.57h1.4M273.74 102.39h1.4M259.41 125.53h1.4M260.81 72.38h1.4M274.61 52.76h1.4M289.74 83.83h1.4M265.38 152.01h1.4M277.03 147.17h1.4M295.77 90.67h1.4M289.84 153.78h1.4M292.76 95.68h1.4M283.86 165.48h1.4M280.49 126.37h1.4M280.21 90.85h1.4M280.97 138.25h1.4M275.63 78.58h1.4M271.54 72.46h1.4M266.76 52.88h1.4M259.96 117.83h1.4M271.87 105.98h1.4M287.58 105.07h1.4M279.07 92.43h1.4M263.83 162.64h1.4M289.32 91.9h1.4M259.03 80.51h1.4M293.9 155.35h1.4M282.95 162.01h1.4M279.2 120.88h1.4M273.57 41.88h1.4M289.74 85.21h1.4M257.67 131.29h1.4M258.02 108.67h1.4M277.8 167.05h1.4M269.05 56.06h1.4M273.14 133.78h1.4M278.43 84.17h1.4M259.12 158.28h1.4M295.94 105.15h1.4M283.96 147.16h1.4M261.28 83.39h1.4M286.35 54.44h1.4M278.29 65.81h1.4M284.33 84.95h1.4M286.32 69.06h1.4M296.26 153.62h1.4M262.04 158.88h1.4M296.45 118.38h1.4M276.09 68.7h1.4M265.28 103.5h1.4M272.05 81.93h1.4M271.68 163.25h1.4M292.5 120.01h1.4M277.95 126.6h1.4M260.02 92.81h1.4M285.42 31.57h1.4M276.91 78.7h1.4M289.33 65.57h1.4M259.22 122.07h1.4M291.31 111.67h1.4M292.4 77.54h1.4M257.72 93.23h1.4M276.1 167.53h1.4M262.17 71.54h1.4M278.15 73.12h1.4M260.9 99.32h1.4M292.17 81.43h1.4M264.6 91.71h1.4M283.59 128.2h1.4M283.02 173.82h1.4M269.98 40.38h1.4M265.81 107.31h1.4M293.28 109.57h1.4M258.96 104.81h1.4M267.36 100.89h1.4M270.21 95.07h1.4M280.3 146.16h1.4M271.87 90.32h1.4M261.77 103.16h1.4M279.76 108h1.4M285.78 112.08h1.4M285.03 101.51h1.4M276.59 145.97h1.4M269.43 107.67h1.4M257.8 114.61h1.4M278.29 106.04h1.4M282.04 69.89h1.4M274.7 76.46h1.4M295 68.1h1.4M265.33 115.32h1.4M289.31 80.89h1.4M285.58 67.67h1.4M292.65 117.05h1.4M293.64 127.95h1.4M266.68 41.09h1.4M293.53 172.21h1.4M273.21 109.23h1.4M284.02 104h1.4M294.75 148.54h1.4M280.74 110.65h1.4M280.25 85.05h1.4M260.18 191.39h1.4M280.79 67.17h1.4M266.85 104.29h1.4M272.62 140.19h1.4M272.21 67.35h1.4M295.56 104.12h1.4M282.4 122.69h1.4M285.82 199.26h1.4M264.17 74.07h1.4M269.33 106.19h1.4M291.8 133.03h1.4M262.11 111.08h1.4M294.76 62.29h1.4M274.15 123.51h1.4M272.69 112.09h1.4M277.57 124.93h1.4M274.78 151h1.4M275.84 146.5h1.4M274.02 123.49h1.4M284.91 119.8h1.4M268.23 66.26h1.4M263.93 102.9h1.4M274.43 116.37h1.4M260.86 92.76h1.4M274.94 111.71h1.4M276.78 76.64h1.4M288.15 166.3h1.4M261.67 189.78h1.4M272.96 93.2h1.4M288 123.21h1.4M270.66 99.1h1.4M290.18 155.99h1.4M285.56 124.53h1.4M259.04 110.94h1.4M272.5 99.5h1.4M287.44 112.79h1.4M278.04 69.99h1.4M283.78 133.67h1.4M296.21 80.87h1.4M283.87 128.33h1.4M278.81 112.93h1.4M290.57 149.61h1.4M274.26 107.35h1.4M257.81 146.88h1.4M268.08 72.95h1.4M280.71 131.16h1.4M294.57 99.48h1.4M281.2 115.38h1.4M268.52 110.73h1.4M296.33 143.58h1.4M273.09 31.25h1.4M266.33 120.28h1.4M279.07 51.21h1.4M270.89 153.86h1.4M261.77 33.04h1.4M285.34 69.86h1.4M284.51 44.39h1.4M295.51 170.29h1.4M262.76 59.02h1.4M293.09 112.33h1.4M288.65 87.64h1.4M267.32 39.61h1.4M276.19 95.18h1.4M282.1 133.18h1.4M269.75 101h1.4M261.62 143.76h1.4M290.21 94.25h1.4M263.86 108.26h1.4M276.64 93.38h1.4M274.56 121.06h1.4M292.8 180.16h1.4M279.31 121.77h1.4M274.04 115.39h1.4M295.69 84.5h1.4M271.22 79.29h1.4M285.88 163.63h1.4M266.57 65.73h1.4M287.08 73.3h1.4M286.85 104.3h1.4M289.86 91.8h1.4M276.4 182.34h1.4M266.11 18.08h1.4M282.17 121.73h1.4" stroke="#62809f" stroke-width="1.4" stroke-opacity="0.22" fill="none"/>
<path d="M293.08 135.08h1.4M269.54 65.42h1.4M258.19 83.51h1.4M264.65 124.44h1.4M293.97 169.92h1.4M257.64 73.02h1.4M259.51 47.99h1.4M261.25 144.95h1.4M292.36 165.9h1.4M272.43 95.27h1.4M284.51 23.88h1.4M285.07 163.17h1.4M274.41 100.46h1.4M286.11 150.71h1.4M275.48 106.35h1.4M278.64 93.73h1.4M269.43 90.83h1.4M257.48 163.99h1.4M280.66 162.51h1.4M267.81 26.76h1.4M268.19 72.42h1.4M291.85 175.53h1.4M271.58 94.04h1.4M261.41 56.3h1.4M282.11 108.17h1.4M278.51 103.88h1.4M259.66 104.3h1.4M271.08 89.78h1.4M281.36 96.22h1.4M268.36 90.68h1.4M296.06 120.69h1.4M288.72 77.12h1.4M277.17 96.99h1.4M293.29 102.53h1.4M258.76 157.62h1.4M266.2 122.19h1.4M293.26 103.83h1.4M277.34 128.38h1.4M264.07 123.43h1.4M279.75 149.34h1.4M286.03 127.25h1.4M281.05 176.17h1.4M259.2 159.1h1.4M258.84 106.44h1.4M273.36 92.25h1.4M258.04 141.54h1.4M260.7 127.63h1.4M282.59 104.41h1.4M274.59 51.88h1.4M260.75 38.37h1.4M291.76 121.23h1.4M271.84 137.29h1.4M292.02 138.53h1.4M281.28 59.09h1.4M281.74 147.42h1.4M274.02 87.7h1.4M283.74 122.76h1.4M266.95 123.83h1.4M267.49 77.51h1.4M291.7 85.53h1.4M265.39 29.22h1.4M272.53 73.16h1.4M286.59 39.5h1.4M270.34 124.62h1.4M271.75 110.33h1.4M293.04 142.73h1.4M265.49 121.55h1.4M266.85 83.88h1.4M292.16 121.16h1.4M268.19 93.16h1.4M270.36 131.14h1.4M291.97 119.98h1.4M269.99 70.43h1.4M296.48 108.08h1.4M289.59 110.1h1.4M290.59 96.31h1.4M266.25 142.01h1.4M265.91 173.1h1.4M286.9 94.03h1.4M289.81 94.67h1.4M266.2 22.57h1.4M265.47 103.1h1.4M266.95 91.43h1.4M262.79 25.88h1.4M273.91 118.96h1.4M277.11 130.46h1.4M282.02 80.1h1.4M259.57 93.84h1.4M264.93 71.27h1.4M261.99 136.98h1.4M267.98 50.34h1.4M264.68 96.1h1.4M294.1 182.14h1.4M272.04 109.96h1.4M262.84 125.78h1.4M283.52 102.43h1.4M295.54 63.37h1.4M288.54 106.76h1.4M282.81 123.45h1.4M272.22 69.14h1.4M273.21 120.98h1.4M269.24 155.31h1.4M289 148.65h1.4M288.89 47.86h1.4M276.58 70.94h1.4M291.19 46.68h1.4M282.97 148.7h1.4M284.27 131.19h1.4M267.94 134.72h1.4M266.87 74.62h1.4M266.33 63.67h1.4M293.17 110.92h1.4M288.77 111.84h1.4M292.65 75.54h1.4M289.65 113.4h1.4M288.95 132.49h1.4M274.49 116.66h1.4M287.41 68.5h1.4M263.93 27.72h1.4M283.11 98.16h1.4M259.08 114.25h1.4M295.26 98.12h1.4M291.87 91.72h1.4M263.87 81.73h1.4M287.53 135.19h1.4M289.69 106.01h1.4M259.05 112.68h1.4M279.59 71.08h1.4M273.87 84.42h1.4M281.65 114.22h1.4M292.15 69.79h1.4M285.74 60.15h1.4M265.68 95.49h1.4M279.14 153.64h1.4M279.42 115.26h1.4M257.85 163.46h1.4M262.57 103h1.4M271.49 96.22h1.4M264.38 55.09h1.4M266.7 86.1h1.4M283.9 162.54h1.4M295.08 120.45h1.4M275.36 135.86h1.4M282.73 134.79h1.4M287.25 107.64h1.4M283.78 100.22h1.4M283.15 112.53h1.4M257.45 133.51h1.4M291.5 125.4h1.4M263.72 126.69h1.4M264.48 113.86h1.4M277.38 78.74h1.4M280.41 98.06h1.4M287.02 72.22h1.4M268.88 146.18h1.4M294.45 28.12h1.4M282.03 99.72h1.4M290.49 198.71h1.4M276.1 95.02h1.4M260.19 64.88h1.4M257.87 107.32h1.4M282.5 157h1.4M274.1 101.9h1.4M274.67 131.31h1.4M270.18 111.8h1.4M264.39 93.83h1.4M267.39 110.7h1.4M292.4 87.59h1.4M264.41 89.38h1.4M295.33 122.46h1.4M291.12 123.55h1.4M272.44 137.34h1.4M287.7 113.36h1.4M280.16 53.6h1.4M275.66 128.21h1.4M289.23 96.26h1.4M289.97 97.13h1.4M265.3 51.65h1.4M292.92 86.21h1.4M258.66 80.38h1.4M257.62 106.61h1.4M276.36 52.77h1.4M269.21 109.92h1.4M273.97 112.72h1.4M276.18 65.45h1.4M275.76 84.26h1.4M292.99 75.41h1.4M293.39 142.49h1.4M270.97 11.93h1.4M268.67 94.95h1.4M283.04 44.9h1.4M265.18 91.6h1.4M273.1 140.18h1.4M285.54 84.04h1.4M257.62 113.26h1.4M287.66 75.9h1.4M286.17 181.7h1.4M272.58 142.7h1.4M267.12 150.83h1.4M278.57 57.53h1.4" stroke="#96a8be" stroke-width="1.4" stroke-opacity="0.28" fill="none"/>
<path d="M340.94 201.38h1.4M316.96 183.11h1.4M328.87 158.91h1.4M329.73 103.83h1.4M307.33 182.89h1.4M306.58 183.88h1.4M321.12 142.08h1.4M308.79 115.04h1.4M315.4 136.45h1.4M311.48 188.15h1.4M316.07 138.38h1.4M321.67 153.51h1.4M316 170.51h1.4M316.95 195.61h1.4M322.85 164.55h1.4M330.56 162.49h1.4M305.45 151.28h1.4M342.9 205.77h1.4M320.69 191.65h1.4M339.98 162.62h1.4M304.08 130.09h1.4M306.05 145.24h1.4M307.69 179.49h1.4M339.58 146.96h1.4M319.95 187.31h1.4M336.98 174.04h1.4M331.03 172.32h1.4M307.24 181.34h1.4M317.98 177.46h1.4M316.79 143.62h1.4M321.56 156.85h1.4M307.08 134.8h1.4M340.11 153.14h1.4M322.48 191.64h1.4M318.14 161.02h1.4M331.15 144.7h1.4M314.64 131.92h1.4M331.73 178.4h1.4M320.1 190.5h1.4M322.54 200h1.4M311.21 166.34h1.4M311.76 191.12h1.4M337.57 139.18h1.4M326.39 169.2h1.4M320.35 148.07h1.4M334.18 169.35h1.4M339.55 183.77h1.4M310.03 191.74h1.4M342.92 140.25h1.4M304.35 196.69h1.4M327.87 153.14h1.4M314.13 139.36h1.4M313.68 160.73h1.4M323.19 128.44h1.4M327.49 165.11h1.4M320.92 172.24h1.4M331.79 159.99h1.4M341.05 178.4h1.4M310.42 157.13h1.4M313.11 165.1h1.4M327.69 128.98h1.4M319.88 166.07h1.4M316.16 143.72h1.4M323.58 153.76h1.4M331.12 162.66h1.4M339.42 169.77h1.4M340.68 123.83h1.4M335.93 125.91h1.4M317.39 157.45h1.4M338.45 176.86h1.4M331.63 174.01h1.4M310.64 187.32h1.4M341.17 197.53h1.4M313.5 177.41h1.4M330.54 164.5h1.4M331.03 139.21h1.4M339.4 141.35h1.4M329.93 153.32h1.4M342.34 171.69h1.4M306.14 170.52h1.4M305.27 165.11h1.4M311.47 161.18h1.4M326.35 180.76h1.4M320.42 170.21h1.4M307.03 172.45h1.4M311.72 172.71h1.4M326.51 151.34h1.4M319.58 139.23h1.4M333.73 177.28h1.4M322.11 175.42h1.4M338.21 159.5h1.4M333.54 154.61h1.4M317.83 146.02h1.4M312.18 159.56h1.4M315.25 171.64h1.4M317.72 136.14h1.4M317.96 167.93h1.4M322.35 188.35h1.4M308.18 180.81h1.4M337.85 179.81h1.4M325.37 167.8h1.4M307.53 188.96h1.4M316.65 161.1h1.4M313.81 154.43h1.4M309.92 167.55h1.4M322.64 187.64h1.4M310.98 173.26h1.4M309.75 181.86h1.4M331.33 114.4h1.4M320.64 194.83h1.4M322.22 198.37h1.4M323.56 157.06h1.4M315.98 143.79h1.4M320.51 171.94h1.4M322.65 140.33h1.4M317.22 183.14h1.4M336.19 151.86h1.4M313.45 189.02h1.4M312.45 199.05h1.4M317.29 114.19h1.4M334.58 172.32h1.4M337.02 147.54h1.4M325.95 129.76h1.4M317.94 149.57h1.4M329.23 159.53h1.4M336.2 190.84h1.4M313.32 126.96h1.4M329.97 191.27h1.4M319.1 179.94h1.4M309.48 178.65h1.4M327.61 164.66h1.4M312.04 135.62h1.4M318.23 178.37h1.4M325.15 174.6h1.4M341.54 183.29h1.4M306.69 183.19h1.4M324.92 175.64h1.4M340.77 204.05h1.4M305.61 131.37h1.4M328.97 136.43h1.4M304.87 155.62h1.4M325.4 148.63h1.4M308.47 182.35h1.4M329.64 157.06h1.4M317.95 208.5h1.4M329.46 203.01h1.4M313.92 184.25h1.4M306.74 155.35h1.4M310.93 180.42h1.4M314.54 185.28h1.4M310.26 138.34h1.4M311.58 173.72h1.4M325.13 182.65h1.4M320.96 170.41h1.4M336.15 204.28h1.4M323.31 195.35h1.4M324.95 144.36h1.4M331.64 168.11h1.4M337.25 144.11h1.4M326.72 179.49h1.4" stroke="#62809f" stroke-width="1.4" stroke-opacity="0.22" fill="none"/>
<path d="M305.24 143.32h1.4M321.8 188.08h1.4M305.06 174.7h1.4M327.51 189.27h1.4M306.35 161.37h1.4M324.95 128.59h1.4M309.68 209.15h1.4M337.34 160.69h1.4M307.5 199.42h1.4M329.65 175.75h1.4M331.39 181.85h1.4M327.04 173.51h1.4M316.73 200.01h1.4M313.95 127.89h1.4M313.98 186.78h1.4M304.42 158.95h1.4M330.18 161.65h1.4M306.62 165.22h1.4M311.52 173.66h1.4M307.21 206.43h1.4M335.33 118.66h1.4M324.56 166.1h1.4M322.12 147.09h1.4M326.67 194.15h1.4M335.48 154.42h1.4M328.26 176.42h1.4M323.92 155.06h1.4M316.08 181.7h1.4M324.06 190.37h1.4M342.5 155.07h1.4M326.14 166.23h1.4M322.51 129.49h1.4M338.62 172.63h1.4M305.94 186.41h1.4M306.28 151.11h1.4M334.74 193.01h1.4M340.73 113.17h1.4M305.79 118.72h1.4M304.74 130.29h1.4M304.18 152.88h1.4M326.42 165.47h1.4M309.2 163.03h1.4M325.8 163.32h1.4M329.82 183.09h1.4M304.41 153.2h1.4M337.91 133.41h1.4M313.7 133.91h1.4M317.66 106.2h1.4M317.26 160.59h1.4M319.61 201.45h1.4M303.95 177.08h1.4M320.61 144.26h1.4M314.19 165.05h1.4M317.81 186.6h1.4M310.19 195.2h1.4M316.93 142.52h1.4M331.22 184.01h1.4M342.36 171.31h1.4M311.53 192.61h1.4M337.77 199.76h1.4M327.9 156.42h1.4M307.76 128.76h1.4M304.38 174.9h1.4M338.45 209.42h1.4M312.98 182.14h1.4M307.96 170.75h1.4M331.5 139h1.4M338.89 187.57h1.4M323.41 150.74h1.4M316.03 166.24h1.4M316.28 167.24h1.4M311.83 202.87h1.4M328.7 141.6h1.4M340.74 151.62h1.4M307.12 125.18h1.4M318.96 177.18h1.4M317.59 153.54h1.4M306.94 175.55h1.4M327.12 138.17h1.4M342.33 156.02h1.4M314.65 190.97h1.4M332.3 160.64h1.4M339.1 180.64h1.4M314.41 178.21h1.4M339.82 156.17h1.4M333.14 126.01h1.4M329.11 189.64h1.4M311.41 169.27h1.4M314.67 189.58h1.4M307.78 114.68h1.4M338.91 123.63h1.4M335.51 111.43h1.4M307.19 143.08h1.4M324.62 191.05h1.4M312.15 179.15h1.4M333.81 164.15h1.4M326.27 168.28h1.4M340.86 184.02h1.4M332.3 157.45h1.4M307.75 174.9h1.4M318.41 168.5h1.4M326.39 110.32h1.4M339.54 155.38h1.4M318.34 198.97h1.4M311.17 155.1h1.4M314.91 161.42h1.4M313.53 149.83h1.4M309.86 152.88h1.4M317.28 193.1h1.4M313.56 158.3h1.4M323.81 139.45h1.4M338.85 87.22h1.4M341.21 150.68h1.4M310.05 115.83h1.4M326.12 119.41h1.4M330.21 184.88h1.4M309.78 182.72h1.4M324.65 117.07h1.4M311.64 186.29h1.4M318.07 176.48h1.4M316.5 145.41h1.4M335.75 183.36h1.4M312.98 124.33h1.4M324.97 134.89h1.4M326.76 129.01h1.4M316.73 137.21h1.4M340.23 186.97h1.4M316.82 131.66h1.4M316.59 136.22h1.4M330.95 141.21h1.4M322.92 169.89h1.4M332.21 156.51h1.4M309.79 186.56h1.4M309.6 147.22h1.4M332.65 132.76h1.4M319.03 152.4h1.4M337.4 165.87h1.4M312.95 141.65h1.4M313.22 171.85h1.4M317.98 150.29h1.4M308.1 165.91h1.4M312.44 198.58h1.4M333.97 148.55h1.4M314.21 143.55h1.4M325.59 137.36h1.4M336.52 174.63h1.4M327.73 177.52h1.4M333.31 160.92h1.4M342.1 165.66h1.4M315.53 196.43h1.4M338.15 186.24h1.4M325.4 129.49h1.4M311.7 164.26h1.4M308.97 167.1h1.4M316.65 182.45h1.4M309.2 158.84h1.4M334.05 148.26h1.4M325.65 152.92h1.4M305.53 119.9h1.4M338.23 163.7h1.4" stroke="#96a8be" stroke-width="1.4" stroke-opacity="0.28" fill="none"/>
<line x1="69.9" y1="145.6" x2="109.2" y2="145.6" stroke="#8a9fb8" stroke-width="1.7" stroke-dasharray="6.6 6.6" stroke-linecap="round"/>
<line x1="69.9" y1="148.8" x2="109.2" y2="148.8" stroke="#2d5986" stroke-width="1.7" stroke-linecap="butt"/>
<line x1="117.2" y1="101.6" x2="156.4" y2="101.6" stroke="#8a9fb8" stroke-width="1.7" stroke-dasharray="6.6 6.6" stroke-linecap="round"/>
<line x1="117.2" y1="102.4" x2="156.4" y2="102.4" stroke="#2d5986" stroke-width="1.7" stroke-linecap="butt"/>
<line x1="164.4" y1="88.2" x2="203.5" y2="88.2" stroke="#8a9fb8" stroke-width="1.7" stroke-dasharray="6.6 6.6" stroke-linecap="round"/>
<line x1="164.4" y1="62.4" x2="203.5" y2="62.4" stroke="#2d5986" stroke-width="1.7" stroke-linecap="butt"/>
<line x1="211.4" y1="100.8" x2="250.5" y2="100.8" stroke="#8a9fb8" stroke-width="1.7" stroke-dasharray="6.6 6.6" stroke-linecap="round"/>
<line x1="211.4" y1="77.7" x2="250.5" y2="77.7" stroke="#2d5986" stroke-width="1.7" stroke-linecap="butt"/>
<line x1="258.7" y1="115.5" x2="297.7" y2="115.5" stroke="#8a9fb8" stroke-width="1.7" stroke-dasharray="6.6 6.6" stroke-linecap="round"/>
<line x1="258.7" y1="93.9" x2="297.7" y2="93.9" stroke="#2d5986" stroke-width="1.7" stroke-linecap="butt"/>
<line x1="305.8" y1="158.9" x2="344.8" y2="158.9" stroke="#8a9fb8" stroke-width="1.7" stroke-dasharray="6.6 6.6" stroke-linecap="round"/>
<line x1="305.8" y1="159.6" x2="344.8" y2="159.6" stroke="#2d5986" stroke-width="1.7" stroke-linecap="butt"/>
<rect x="60" y="6.6" width="295" height="203.9" fill="none" stroke="#333" stroke-width="1"/>
<line x1="53" y1="202.5" x2="60" y2="202.5" stroke="#333" stroke-width="1"/>
<text x="46.9" y="206.4" text-anchor="end" class="tk">100</text>
<line x1="53" y1="180.4" x2="60" y2="180.4" stroke="#333" stroke-width="1"/>
<text x="46.9" y="184.3" text-anchor="end" class="tk">126</text>
<line x1="53" y1="158.3" x2="60" y2="158.3" stroke="#333" stroke-width="1"/>
<text x="46.9" y="162.2" text-anchor="end" class="tk">158</text>
<line x1="53" y1="136.2" x2="60" y2="136.2" stroke="#333" stroke-width="1"/>
<text x="46.9" y="140.1" text-anchor="end" class="tk">200</text>
<line x1="53" y1="114.1" x2="60" y2="114.1" stroke="#333" stroke-width="1"/>
<text x="46.9" y="118" text-anchor="end" class="tk">251</text>
<line x1="53" y1="92" x2="60" y2="92" stroke="#333" stroke-width="1"/>
<text x="46.9" y="95.9" text-anchor="end" class="tk">316</text>
<line x1="53" y1="69.9" x2="60" y2="69.9" stroke="#333" stroke-width="1"/>
<text x="46.9" y="73.8" text-anchor="end" class="tk">398</text>
<line x1="53" y1="47.8" x2="60" y2="47.8" stroke="#333" stroke-width="1"/>
<text x="46.9" y="51.7" text-anchor="end" class="tk">501</text>
<line x1="53" y1="25.7" x2="60" y2="25.7" stroke="#333" stroke-width="1"/>
<text x="46.9" y="29.6" text-anchor="end" class="tk">631</text>
<line x1="91.4" y1="210.5" x2="91.4" y2="217.7" stroke="#333" stroke-width="1"/>
<text x="91.4" y="234.3" text-anchor="middle" class="tk">M</text>
<line x1="137.8" y1="210.5" x2="137.8" y2="217.7" stroke="#333" stroke-width="1"/>
<text x="137.8" y="234.3" text-anchor="middle" class="tk">J</text>
<line x1="184.2" y1="210.5" x2="184.2" y2="217.7" stroke="#333" stroke-width="1"/>
<text x="184.2" y="234.3" text-anchor="middle" class="tk">J</text>
<line x1="230.6" y1="210.5" x2="230.6" y2="217.7" stroke="#333" stroke-width="1"/>
<text x="230.6" y="234.3" text-anchor="middle" class="tk">A</text>
<line x1="277" y1="210.5" x2="277" y2="217.7" stroke="#333" stroke-width="1"/>
<text x="277" y="234.3" text-anchor="middle" class="tk">S</text>
<line x1="323.4" y1="210.5" x2="323.4" y2="217.7" stroke="#333" stroke-width="1"/>
<text x="323.4" y="234.3" text-anchor="middle" class="tk">O</text>
<text x="207.2" y="254" text-anchor="middle" class="xt">Month</text>
<text x="74" y="23.9" class="pl">A.</text>
<text transform="translate(65.8 188.2) scale(0.951 1)" class="st">F<tspan font-size="7.0" dy="2.0">[5.0, 2929.3]</tspan><tspan dy="-2.0"> = 12.64</tspan></text>
<text transform="translate(65.8 202.1) scale(0.951 1)" class="st">p<tspan font-size="7.0" dy="2.0">Rain:Month</tspan><tspan dy="-2.0"> &lt; 0.0001***</tspan></text>
<line x1="170.9" y1="190.5" x2="186" y2="190.5" stroke="#2d5986" stroke-width="1.4" stroke-linecap="butt"/>
<text x="194.2" y="193.6" class="lg" fill="#3f6790">150% - Precip.</text>
<line x1="170.9" y1="200.4" x2="186" y2="200.4" stroke="#8a9fb8" stroke-width="1.4" stroke-dasharray="5 4.9" stroke-linecap="butt"/>
<text x="194.2" y="203.5" class="lg" fill="#9fb2c8">50% - Precip.</text>
<text transform="translate(15.0 109.05) rotate(-90)" text-anchor="middle" class="yt">Soil Respiration (mgCO<tspan font-size="9.5" dy="2.6">2</tspan><tspan dy="-2.6">-C m</tspan><tspan font-size="9.5" dy="-6.2">-2</tspan><tspan dy="6.2"> h</tspan><tspan font-size="9.5" dy="-6.2">-1</tspan><tspan dy="6.2">)</tspan></text>
<line x1="398.6" y1="7.5" x2="398.6" y2="180" stroke="#9fb3ca" stroke-opacity="0.3" stroke-width="1.8"/>
<path d="M398.6 22.52v1.36M398.6 107.13v1.33M398.6 105.35v1.7M398.6 141.25v1.37M398.6 141.75v1.79M398.6 146.19v1.54M398.6 39.84v1.84M398.6 18.78v1.96M398.6 36.74v1.59M398.6 10.77v2.08M398.6 57.14v1.89M398.6 10.57v2M398.6 138.28v0.83M398.6 130.96v0.82M398.6 8.52v1.69M398.6 9.69v1.27M398.6 95.93v2.02M398.6 95.74v1.35M398.6 51.47v1.84M398.6 86.38v1.14M398.6 35.78v1.68M398.6 25.93v2.06M398.6 167.32v2.01M398.6 34.15v1.31M398.6 49.3v1.47M398.6 13.98v1.55M398.6 9.59v1.28M398.6 154.88v1.48M398.6 137.11v2.15M398.6 18.01v2.03M398.6 88.69v1.24M398.6 71.35v1.76M398.6 45.18v2.13M398.6 41.69v1.31M398.6 14.66v1.99M398.6 164.06v1.92M398.6 31.94v2.04M398.6 104.3v0.92M398.6 59.52v2.09M398.6 14.08v2.17M398.6 153.09v1.14M398.6 170.69v1.69M398.6 20.35v0.93M398.6 44.46v1.64M398.6 10.99v1.79M398.6 11.04v1.84M398.6 80.85v2M398.6 41.98v1.21M398.6 27.99v0.96M398.6 97.98v1.94M398.6 84.75v0.84M398.6 146.41v1.13M398.6 12.78v1.13M398.6 89.63v1.89M398.6 172.91v1.42M398.6 48.04v1.97M398.6 131.3v1.74M398.6 12.76v1.98M398.6 70.12v1.9M398.6 175.61v2.03M398.6 63.04v1.19M398.6 118.59v1.3" stroke="#2d5986" stroke-width="1.8" stroke-opacity="0.35" fill="none"/>
<path d="M398.6 47.2v1.68M398.6 42.41v1.62M398.6 18.38v1.89M398.6 133.22v1.93M398.6 27.65v1.23M398.6 134.5v0.97M398.6 129.99v1.84M398.6 174.08v1.76M398.6 41.43v1.19M398.6 112.81v0.88M398.6 89.05v0.83M398.6 83.48v1.15M398.6 19.77v1.18M398.6 12.3v1.09M398.6 67.95v0.87M398.6 61.57v1.04M398.6 38.75v1.29M398.6 163.82v0.93M398.6 10.72v1.09M398.6 73.95v1.41M398.6 9.19v1.99M398.6 19.13v2.02M398.6 105.89v1.37M398.6 13.79v0.98M398.6 38.83v1.18M398.6 114.29v1.74M398.6 169.3v1.37M398.6 105.46v1.6M398.6 28.47v1.83M398.6 63.82v1.72M398.6 51.28v2M398.6 46.11v0.92M398.6 165.01v1.22M398.6 93.15v0.85M398.6 90.66v1.53M398.6 56.4v1.66M398.6 85.64v1.16M398.6 114.34v0.88M398.6 44.58v1.45M398.6 40.69v1.03M398.6 47.53v1.07M398.6 26.6v1.33M398.6 38.13v2.12M398.6 42.63v1.3M398.6 148.85v1.79M398.6 67.93v1.32M398.6 140.73v1.37M398.6 27.21v1M398.6 169.48v1.06M398.6 12.88v1.88M398.6 98.05v1.4M398.6 27.15v1.2M398.6 69.44v2.18M398.6 33.48v2.03M398.6 9.58v1.17M398.6 146.23v1.41M398.6 35.82v1.59M398.6 168.44v1.03M398.6 30.42v1.4M398.6 7.72v1.2M398.6 9.99v1.93M398.6 102.34v0.93M398.6 90.35v2.19M398.6 101.38v1.13M398.6 154.83v1.26M398.6 65.14v0.91M398.6 41.09v2.08M398.6 21.44v1.96" stroke="#7d97b3" stroke-width="1.8" stroke-opacity="0.45" fill="none"/>
<line x1="535.2" y1="7.5" x2="535.2" y2="209.5" stroke="#9fb3ca" stroke-opacity="0.12" stroke-width="1.8"/>
<path d="M535.2 122.41v1.88M535.2 204.15v2M535.2 186.85v1.42M535.2 163.41v1.71M535.2 128.86v0.93M535.2 144.87v0.9M535.2 205.95v0.95M535.2 116.34v1.83M535.2 93.24v1.3M535.2 162.86v2.07M535.2 207.54v0.91M535.2 124.54v1.04M535.2 115v1.97M535.2 55.09v1.39M535.2 40.19v1.11M535.2 207.6v1.89M535.2 69.92v1.13M535.2 148.44v2.16M535.2 66.13v1.18M535.2 94.1v2M535.2 202.53v1.47M535.2 83.09v2.11M535.2 188.35v1.21M535.2 151.01v2.1M535.2 107.73v1.22M535.2 113.09v1.43M535.2 198.1v1.69M535.2 78.45v1.58M535.2 173.98v1.74M535.2 105.46v1.77M535.2 48.75v1.17M535.2 79.02v0.81M535.2 132.4v1.81M535.2 155.03v1.64M535.2 177.3v1.59M535.2 171.46v1.49M535.2 182.96v2.1M535.2 195.9v1.22" stroke="#2d5986" stroke-width="1.8" stroke-opacity="0.22" fill="none"/>
<path d="M535.2 47.62v2.08M535.2 145.23v1.04M535.2 157.08v1.77M535.2 112.47v2.12M535.2 88.49v1.02M535.2 99.1v1.88M535.2 144.26v1.18M535.2 160.01v0.88M535.2 47.76v1.4M535.2 44.64v1.78M535.2 96.07v1.2M535.2 109.72v2.13M535.2 30.68v0.8M535.2 110.21v1.17M535.2 86.05v1.28M535.2 35.34v1.32M535.2 189.05v1.22M535.2 68.29v0.83M535.2 186.46v1.09M535.2 84.16v1.17M535.2 106.91v1.74M535.2 201.18v1.33M535.2 69.47v1.81M535.2 163.19v1.42M535.2 174.26v1.28M535.2 176.98v1.02M535.2 180.77v1.12M535.2 123.16v2.06M535.2 15.19v1.44M535.2 130.97v1.24M535.2 201.3v1.11M535.2 158.52v2.03M535.2 199.23v1.79M535.2 192.35v1.77M535.2 176.08v1.93M535.2 91.53v1.14M535.2 127.13v1.82M535.2 89.69v0.9M535.2 202.22v1.73M535.2 75.79v1.25M535.2 72.74v1.73M535.2 192.67v1.12" stroke="#7d97b3" stroke-width="1.8" stroke-opacity="0.3" fill="none"/>
<line x1="671.7" y1="12" x2="671.7" y2="209.5" stroke="#9fb3ca" stroke-opacity="0.15" stroke-width="1.8"/>
<path d="M671.7 204.03v1.7M671.7 100.77v1.71M671.7 199.82v2.01M671.7 134.33v1.21M671.7 91.48v2.19M671.7 209.41v1.05M671.7 187.97v0.86M671.7 143.92v1.95M671.7 159.16v1.04M671.7 200.24v1.27M671.7 162.07v1.52M671.7 194.29v0.96M671.7 165.59v1.39M671.7 98.5v1.3M671.7 187.88v0.92M671.7 196.41v1.64M671.7 124.77v1.43M671.7 106.91v1.02M671.7 162.16v1.9M671.7 204.69v1.37M671.7 148.05v0.84M671.7 98.35v2.03M671.7 200v1.37M671.7 187.39v0.93M671.7 125.52v1.2M671.7 141.32v1.16M671.7 166.99v0.86M671.7 202.03v1.26M671.7 67.76v1.04M671.7 116.56v1.1M671.7 177.52v1.74M671.7 153.51v1.02M671.7 120.63v0.83M671.7 209.24v1.05M671.7 81.92v1.21M671.7 207v1.03M671.7 172.95v1.64M671.7 112.96v2.03M671.7 184.22v1.96M671.7 59.89v1.46M671.7 139.61v1.9M671.7 145.6v1.91M671.7 127.72v1.69M671.7 163.56v1.92M671.7 164.63v1.33M671.7 174.18v1.85M671.7 184.19v1.53M671.7 91.79v1.83M671.7 178.98v1.83M671.7 77.19v0.89M671.7 202.42v1.97M671.7 193.31v0.85M671.7 151.3v1.4M671.7 162.9v1.63M671.7 192.1v1.95M671.7 82.91v0.88M671.7 91.88v1.74M671.7 160.78v1.28" stroke="#2d5986" stroke-width="1.8" stroke-opacity="0.28" fill="none"/>
<path d="M671.7 135.69v0.86M671.7 176.96v1.27M671.7 133.66v1.7M671.7 89.37v0.92M671.7 177.08v1.99M671.7 43.54v0.86M671.7 100.73v1.13M671.7 205.42v1.26M671.7 71.15v0.89M671.7 187.38v2.1M671.7 86.51v2.15M671.7 185.87v2.07M671.7 67.69v1.08M671.7 150.3v1.97M671.7 188.47v1.27M671.7 176.57v1.2M671.7 206.58v1.77M671.7 207.59v0.92M671.7 128.18v0.81M671.7 100.38v2.1M671.7 173.62v1.3M671.7 201.67v1.91M671.7 132.65v1.4M671.7 186.31v0.93M671.7 194.87v1.46M671.7 116.46v1.04M671.7 145.63v0.91M671.7 26.7v0.83M671.7 191.53v1.36M671.7 144.17v1.16M671.7 187.18v1.27M671.7 154.97v2.15M671.7 71.69v1.96M671.7 172.1v1.79M671.7 208.89v1.14M671.7 72.75v1.85M671.7 128.21v1.78M671.7 207.4v1.54M671.7 104.34v1.13M671.7 182.39v1.09M671.7 170.42v1.39M671.7 142.48v1.19M671.7 188.98v2.04M671.7 155.29v1.45M671.7 181.24v1.75M671.7 171.45v2.06M671.7 162.04v1.67M671.7 92.14v1.03M671.7 54.46v1.25M671.7 171.34v2.09M671.7 147.72v0.86M671.7 194.19v1.11M671.7 206.95v1.67M671.7 85.74v2M671.7 162.48v1.95M671.7 201.25v1.82M671.7 168.94v1.78M671.7 176.15v1.32M671.7 131.77v0.89M671.7 81.65v1.69M671.7 153.76v0.9M671.7 164.96v1.92M671.7 165.69v0.98M671.7 185.68v0.83M671.7 171.71v2.2M671.7 142.7v1.03M671.7 207.36v1.61M671.7 198.91v0.89M671.7 197.65v2.17M671.7 200.4v0.82M671.7 143.85v1.76M671.7 174.99v1.98" stroke="#7d97b3" stroke-width="1.8" stroke-opacity="0.35" fill="none"/>
<line x1="398.6" y1="86" x2="671.7" y2="169" stroke="#8a9fb8" stroke-width="1.7" stroke-dasharray="6.6 6.6" stroke-linecap="round"/>
<line x1="398.6" y1="34" x2="671.7" y2="160" stroke="#2d5986" stroke-width="1.7" stroke-linecap="butt"/>
<rect x="388" y="6.6" width="294.5" height="203.9" fill="none" stroke="#333" stroke-width="1"/>
<line x1="381" y1="203" x2="388" y2="203" stroke="#333" stroke-width="1"/>
<text x="374.9" y="206.9" text-anchor="end" class="tk">158</text>
<line x1="381" y1="174" x2="388" y2="174" stroke="#333" stroke-width="1"/>
<text x="374.9" y="177.9" text-anchor="end" class="tk">200</text>
<line x1="381" y1="145" x2="388" y2="145" stroke="#333" stroke-width="1"/>
<text x="374.9" y="148.9" text-anchor="end" class="tk">251</text>
<line x1="381" y1="116" x2="388" y2="116" stroke="#333" stroke-width="1"/>
<text x="374.9" y="119.9" text-anchor="end" class="tk">316</text>
<line x1="381" y1="87" x2="388" y2="87" stroke="#333" stroke-width="1"/>
<text x="374.9" y="90.9" text-anchor="end" class="tk">398</text>
<line x1="381" y1="58" x2="388" y2="58" stroke="#333" stroke-width="1"/>
<text x="374.9" y="61.9" text-anchor="end" class="tk">501</text>
<line x1="381" y1="29" x2="388" y2="29" stroke="#333" stroke-width="1"/>
<text x="374.9" y="32.9" text-anchor="end" class="tk">631</text>
<line x1="398.6" y1="210.5" x2="398.6" y2="217.7" stroke="#333" stroke-width="1"/>
<text x="398.6" y="234.3" text-anchor="middle" class="tk">2021</text>
<line x1="535.2" y1="210.5" x2="535.2" y2="217.7" stroke="#333" stroke-width="1"/>
<text x="535.2" y="234.3" text-anchor="middle" class="tk">2022</text>
<line x1="671.7" y1="210.5" x2="671.7" y2="217.7" stroke="#333" stroke-width="1"/>
<text x="671.7" y="234.3" text-anchor="middle" class="tk">2023</text>
<text x="535.3" y="254" text-anchor="middle" class="xt">Year</text>
<text x="402.5" y="23.9" class="pl">B.</text>
<text transform="translate(393.6 188.4) scale(0.951 1)" class="st">F<tspan font-size="7.0" dy="2.0">[1.0, 2934.7]</tspan><tspan dy="-2.0"> = 85.65</tspan></text>
<text transform="translate(393.6 202.4) scale(0.951 1)" class="st">p<tspan font-size="7.0" dy="2.0">Rain:Year</tspan><tspan dy="-2.0"> &lt; 0.0001***</tspan></text>
<line x1="499" y1="190.6" x2="513.6" y2="190.6" stroke="#2d5986" stroke-width="1.4" stroke-linecap="butt"/>
<text x="521.6" y="193.7" class="lg" fill="#3f6790">150% - Precip.</text>
<line x1="499" y1="200.4" x2="513.6" y2="200.4" stroke="#8a9fb8" stroke-width="1.4" stroke-dasharray="5 4.9" stroke-linecap="butt"/>
<text x="521.6" y="203.5" class="lg" fill="#9fb2c8">50% - Precip.</text>
<path d="M110.88 443.14h1.5M94.07 434.46h1.5M107.19 379.07h1.5M77.82 381.58h1.5M87.94 413.74h1.5M108.8 363.11h1.5M73.54 441.05h1.5M110.16 405.39h1.5M74.39 397.28h1.5M77.56 458.59h1.5M107.19 351.07h1.5M88.15 377.83h1.5M85.36 372.07h1.5M90.28 405.79h1.5M109.43 414.61h1.5M110.03 456.93h1.5M86.8 433.02h1.5M72.11 448.61h1.5M105.07 433.52h1.5M83.41 374.32h1.5M98.14 322.03h1.5M104.43 405.3h1.5M96.67 383.68h1.5M98.03 452.39h1.5M77.25 461.17h1.5M88.96 432.12h1.5M74.19 379.19h1.5M109.54 435.72h1.5M85.8 419.01h1.5M77.48 447.57h1.5M79.64 341.67h1.5M75.8 421.51h1.5M109.54 429.99h1.5M88.89 449.03h1.5M92.52 405.49h1.5M92.38 435.95h1.5M97.67 390.91h1.5M103.24 391.27h1.5M79.71 339.13h1.5M81.48 405.2h1.5M75.51 437.6h1.5M109.79 387.18h1.5M96.43 340.05h1.5M93.07 432.98h1.5M107.05 430.11h1.5M77.75 422.04h1.5M109.57 368.42h1.5M102.83 386.41h1.5M72.85 382.49h1.5M81.2 416.51h1.5M80.18 446.36h1.5M106.32 434.31h1.5M81.68 425.72h1.5M81.02 418.91h1.5M110.52 366.94h1.5M107.81 443.26h1.5M84.31 459.53h1.5M74.54 416.99h1.5M97.26 417.26h1.5M101.85 424.96h1.5" stroke="#CC6677" stroke-width="1.5" stroke-opacity="0.5" fill="none"/>
<path d="M88.99 400.31h1.5M82.99 391.4h1.5M85.09 468.42h1.5M102.18 335.46h1.5M94.44 361.75h1.5M75.63 341.25h1.5M101.48 430.94h1.5M77.1 434.99h1.5M94.49 310.89h1.5M106.94 388.46h1.5M84.84 415.37h1.5M80.78 402.64h1.5M88.72 404.11h1.5M101.08 453.43h1.5M72.23 423.51h1.5M105.31 389.98h1.5M103.34 409.87h1.5M104.51 405.01h1.5M97.97 408.84h1.5M74.21 393.03h1.5M77.08 422.08h1.5M92 386.54h1.5M77.3 391.17h1.5M101.15 413.76h1.5M83.17 361.31h1.5M81.86 424.42h1.5M74.39 457h1.5M74.71 424.98h1.5M97.98 396.99h1.5M74.48 370.08h1.5M110.37 406.26h1.5M96.58 422.67h1.5M74.52 437.31h1.5M84.89 368.85h1.5M91.65 401.23h1.5M107.45 429.79h1.5M99.75 324h1.5M81.34 416.73h1.5M99.4 400.22h1.5M108.18 409.9h1.5M84.96 427.16h1.5M84.83 393.89h1.5M78.93 330.45h1.5M102.09 469.37h1.5M107.23 425.4h1.5M87.59 388.16h1.5M77.07 446.03h1.5M85.8 447.5h1.5M101.15 431.49h1.5M72.06 393.64h1.5M108.45 349.17h1.5M104.04 369.33h1.5M110.36 395.62h1.5M83.81 425.76h1.5M77 389.4h1.5M100.43 337.86h1.5M104.78 296.9h1.5M74.66 365.07h1.5M85.49 388.88h1.5M102.62 393.61h1.5" stroke="#117733" stroke-width="1.5" stroke-opacity="0.45" fill="none"/>
<path d="M106.05 435.7h1.5M101.44 381.44h1.5M74.37 406.09h1.5M75.67 404.43h1.5M91.12 425.32h1.5M88.23 341.54h1.5M73.57 434.59h1.5M99.18 370.14h1.5M100.59 357.71h1.5M75.36 434.54h1.5M98.57 363.65h1.5M71.97 386.22h1.5M91.67 389.12h1.5M110.76 414.02h1.5M109.39 371.18h1.5M94.88 390.68h1.5M73.73 431.74h1.5M87.09 330.87h1.5M90.97 436.31h1.5M95.29 403.01h1.5M81.07 460.29h1.5M71.98 340.67h1.5M78.23 414.48h1.5M97.18 449.19h1.5M109.09 402.9h1.5M106.04 431.8h1.5M80.16 416.08h1.5M103.55 352.87h1.5M77.89 400.61h1.5M105.78 393.75h1.5M84.19 425.12h1.5M92.24 390.06h1.5M91.24 406.54h1.5M93.67 424.51h1.5M100.35 361.5h1.5M104.13 391.2h1.5M95.82 416.93h1.5M107.94 385.65h1.5M93.62 461.62h1.5M106.57 361.2h1.5M83.58 463.74h1.5M87.53 431.22h1.5M103.3 379.38h1.5M92.33 360.82h1.5M100.03 392.68h1.5M109.86 401.86h1.5M108.84 411.29h1.5M95.94 389.99h1.5M79.27 365.05h1.5M89.4 323.26h1.5M78.46 471.71h1.5M80.57 395.79h1.5M102.89 366.23h1.5M108.67 401.28h1.5M105.07 351.66h1.5M73.25 434.8h1.5M80.9 373.55h1.5M82.61 393.85h1.5M106.2 383.58h1.5M95.88 402.97h1.5" stroke="#DDCC77" stroke-width="1.5" stroke-opacity="0.6" fill="none"/>
<path d="M96.59 464.74h1.5M101.55 416.28h1.5M79.89 422.66h1.5M75.24 440.54h1.5M80.83 412.89h1.5M109.12 363h1.5M104.21 403.57h1.5M82.45 357.17h1.5M106 394.1h1.5M77.46 420.87h1.5M98.99 416.08h1.5M84.56 424.7h1.5M85.92 376.63h1.5M83.84 382.07h1.5M71.85 438.39h1.5M91.95 350.61h1.5M101.83 396.47h1.5M98.07 413.88h1.5M90.14 385.72h1.5M104.91 420.31h1.5M81.46 342.47h1.5M96.52 364.41h1.5M76.43 387.27h1.5M97.84 368.96h1.5M82.33 436.99h1.5M86.2 469.34h1.5M104.25 376.7h1.5M87.66 388.29h1.5M74.26 356.52h1.5M95.27 337.68h1.5M98.39 402.67h1.5M93.09 370.09h1.5M103.6 399.82h1.5M104.81 467.94h1.5M91.76 413.83h1.5M103.57 451.73h1.5M74.34 413.55h1.5M89.13 401.92h1.5M101.37 364.05h1.5M101.63 382.17h1.5M109.13 409.77h1.5M85.13 398.94h1.5M104.92 408.36h1.5M78.74 352.27h1.5M108.5 397.53h1.5M96.1 470.73h1.5M76.31 446.54h1.5M105.69 405.13h1.5M87.61 352.54h1.5M94.52 432.87h1.5M105.02 349.79h1.5M82.69 385.4h1.5M98.21 343.4h1.5M95.09 352.39h1.5M92.43 380.74h1.5M99.66 425.21h1.5M88.15 443.96h1.5M86.27 384.34h1.5M109.34 439.25h1.5M90.13 359.35h1.5M99.32 418.09h1.5M86.05 355.21h1.5" stroke="#332288" stroke-width="1.5" stroke-opacity="0.45" fill="none"/>
<path d="M137.41 318.02h1.5M125.11 386.48h1.5M154.65 415.68h1.5M122.89 358.11h1.5M145.18 337.61h1.5M140.92 380.57h1.5M144.66 380.43h1.5M123.31 327.4h1.5M134.68 376.01h1.5M121.87 361.45h1.5M130.98 367.95h1.5M143.83 315.43h1.5M155.89 421.11h1.5M154.02 304h1.5M142.95 346.02h1.5M119.22 364.84h1.5M133.4 351.2h1.5M120.94 357.45h1.5M141.97 337.49h1.5M125.87 334.27h1.5M145.91 314.61h1.5M130.07 400.78h1.5M142.17 331.82h1.5M140.39 374.26h1.5M126.36 388.8h1.5M142.33 273.29h1.5M144.43 414.62h1.5M129.77 312.07h1.5M128.9 398.73h1.5M150.87 296.03h1.5M150.02 311.43h1.5M132.07 330.39h1.5M135.42 348.07h1.5M146.35 382.06h1.5M133.88 379.59h1.5M154.01 356.41h1.5M132.29 466.78h1.5M141.45 306.43h1.5M156.46 342.99h1.5M146.28 366.67h1.5M155.29 410.7h1.5M124.49 424.51h1.5M146.93 423.22h1.5M155.49 444.44h1.5M147.55 330.51h1.5M137.09 344.75h1.5M150.48 383.9h1.5M137.88 313.21h1.5M144.66 294.32h1.5M135.6 380.77h1.5M119.86 348.33h1.5M126.75 273.52h1.5M140.25 322.43h1.5M127.77 381.28h1.5M140.42 398.05h1.5M122.61 345.73h1.5M151.04 300.51h1.5M153.65 311.37h1.5M157.2 368.79h1.5M129.4 345.51h1.5M139.38 337.5h1.5M124.53 423.01h1.5M120.17 346.84h1.5M153.28 387.72h1.5M155.34 358.5h1.5M152.44 364.34h1.5M149.5 273.91h1.5M126.65 397.59h1.5M139.14 340.52h1.5M135.58 340.35h1.5M137.27 392.09h1.5M155.71 303.75h1.5M157.05 275.86h1.5M148.03 282.55h1.5M145.9 271.9h1.5M118.79 333.44h1.5M127.56 314.89h1.5M136.67 386.02h1.5M128.11 353.67h1.5M154.48 340.19h1.5M155.9 320.99h1.5M144.65 298.26h1.5M142.03 334.07h1.5M130.17 281.43h1.5M150.22 317.54h1.5M142.4 298.14h1.5M122.44 426.59h1.5M122.2 424.51h1.5M135.17 397.24h1.5M129.22 349.67h1.5M139.85 281.79h1.5M118.39 320.85h1.5M125.08 319.05h1.5M135.35 345.46h1.5M127.04 377.52h1.5M141.03 373h1.5M144.76 288.05h1.5M138.3 444.27h1.5M141.71 371.81h1.5M135.1 435.87h1.5M131.9 346.13h1.5M138.85 369.92h1.5M140.49 409.29h1.5M143.74 322h1.5M145.12 334.64h1.5M130.16 338.78h1.5M143.76 329.17h1.5M142.33 355.96h1.5M122.74 365.33h1.5M143.37 282.77h1.5M126.28 301.86h1.5M134.48 378.36h1.5M136.61 313.54h1.5" stroke="#CC6677" stroke-width="1.5" stroke-opacity="0.5" fill="none"/>
<path d="M150.16 362.9h1.5M119.5 330.42h1.5M146.36 317.49h1.5M140.65 349.18h1.5M125.3 386.79h1.5M120.2 282.98h1.5M132.27 298.19h1.5M124.62 294.77h1.5M126.16 289.51h1.5M141.54 322.2h1.5M150.53 330.86h1.5M138.18 337.21h1.5M133.24 371.84h1.5M143.56 363.41h1.5M145.7 340.97h1.5M154.29 380.12h1.5M127.27 280.49h1.5M126.3 319.43h1.5M131.4 284.54h1.5M150.85 305.48h1.5M118.24 330.33h1.5M131.28 329.45h1.5M151.94 395.78h1.5M141.7 302.37h1.5M155.26 284.87h1.5M129.99 335.06h1.5M132.06 404.44h1.5M118.57 350.32h1.5M125.14 349.93h1.5M142.71 385.25h1.5M156.56 335.55h1.5M145.63 308.88h1.5M133.86 314.17h1.5M147.66 333.99h1.5M156.27 365.84h1.5M144.12 362.54h1.5M148 313.73h1.5M121.45 362.84h1.5M144.87 305.4h1.5M146.86 323.02h1.5M156.89 305.69h1.5M118.68 292.82h1.5M125.85 309.75h1.5M152.11 364.04h1.5M147.09 311.16h1.5M140.37 334.18h1.5M142.84 316.3h1.5M149.33 286.44h1.5M133.7 322.5h1.5M140.02 375.58h1.5M133.47 419.47h1.5M144.14 342.55h1.5M156.65 405.04h1.5M143.44 335.2h1.5M141.24 405.9h1.5M128.08 355.82h1.5M130.45 391.77h1.5M146.36 312.2h1.5M141.42 466.92h1.5M151.2 313.48h1.5M152.66 407.75h1.5M148.23 320.98h1.5M122.89 399.58h1.5M126.47 374.54h1.5M133.7 335.01h1.5M157.36 390.82h1.5M139.17 378.2h1.5M137.33 332.69h1.5M153.15 307.13h1.5M144.61 368.24h1.5M139.04 320.98h1.5M127.7 293.29h1.5M125.34 411.47h1.5M154.1 318.14h1.5M124.28 399.82h1.5M123.28 340.6h1.5M121.34 334.85h1.5M154.65 359.2h1.5M138.38 392.2h1.5M128.89 391.15h1.5M143.25 350.79h1.5M118.87 342h1.5M131.87 287.17h1.5M157.11 373.55h1.5M127.03 343.14h1.5M145.64 344.39h1.5M127.81 315.9h1.5M135.26 382.06h1.5M145.64 302.02h1.5M134.01 380h1.5M146.24 344.17h1.5M122.59 322.68h1.5M154.98 442.62h1.5M145.93 326.13h1.5M141.64 369.11h1.5M137.97 310.76h1.5M153.96 359.32h1.5M119.39 322.45h1.5M151.01 270.52h1.5M155.39 332.83h1.5M134.44 275.1h1.5M143.3 314.15h1.5M153.53 394.59h1.5M118.42 353.19h1.5M153.36 277.41h1.5M126.33 338.98h1.5M126.37 341.34h1.5M154.47 308.35h1.5M151.83 366.39h1.5M153.82 363.33h1.5M119.7 329.91h1.5M119.22 349.24h1.5M143.99 300.22h1.5" stroke="#117733" stroke-width="1.5" stroke-opacity="0.45" fill="none"/>
<path d="M154.17 370.26h1.5M147.7 316.77h1.5M127.85 349.54h1.5M154.89 353.79h1.5M126.69 365.17h1.5M120.26 360.38h1.5M153.38 363.87h1.5M147.75 395.88h1.5M153.45 362.11h1.5M129.9 362.78h1.5M151.02 297.44h1.5M138.8 313.46h1.5M126.99 287.73h1.5M148.33 330.51h1.5M138.12 406.99h1.5M151.82 391.77h1.5M153.18 303.62h1.5M145.42 314.18h1.5M137.17 392.76h1.5M126.14 393.39h1.5M135.85 357.21h1.5M153.82 385.82h1.5M140.54 402.36h1.5M125.5 322.83h1.5M143.24 279.08h1.5M147.43 318.15h1.5M146.05 272.08h1.5M142.17 356.78h1.5M120.72 354.8h1.5M138.02 314.25h1.5M132.31 376.14h1.5M155.68 363.33h1.5M138.52 324.37h1.5M133.67 394.66h1.5M123.69 309.84h1.5M156.8 320.51h1.5M155.94 372.74h1.5M154.35 413.13h1.5M148.87 356.44h1.5M123.55 411.74h1.5M155.6 317.36h1.5M126.5 355.74h1.5M133.1 352.48h1.5M128.95 364.62h1.5M142.28 438.1h1.5M132.22 358.75h1.5M139.95 351.41h1.5M121.29 371.8h1.5M151.98 316.82h1.5M155.35 320.46h1.5M143.66 367.3h1.5M142.3 284.4h1.5M135.72 292.98h1.5M133.67 337.53h1.5M136.23 352.2h1.5M132.57 308.67h1.5M144.46 398.01h1.5M123.32 366.89h1.5M150.11 292.28h1.5M125.9 297.56h1.5M143.33 316.54h1.5M151.02 319.86h1.5M154.5 325.18h1.5M151.99 324.17h1.5M144.1 407.34h1.5M122.09 354.29h1.5M124.49 387.15h1.5M145.47 337.7h1.5M123.92 336.52h1.5M152.07 301.9h1.5M133.45 297.93h1.5M151.99 377.41h1.5M152.05 294.81h1.5M128.86 306.04h1.5M143.96 312.18h1.5M121.89 309.55h1.5M123.01 404.9h1.5M146.57 346.87h1.5M132 333.7h1.5M118.28 322.71h1.5M132.14 420.2h1.5M138.15 403.67h1.5M143.86 379.2h1.5M122.32 358.52h1.5M128.86 369.81h1.5M122.94 365.63h1.5M118.54 365.48h1.5M137.61 351.83h1.5M122.92 368.15h1.5M142.58 338.03h1.5M133.67 442.22h1.5M146.44 308.1h1.5M136.49 345.19h1.5M141.37 301.06h1.5M132.17 354.6h1.5M142.11 365.35h1.5M138.49 334.22h1.5M119.84 349.93h1.5M127.02 325.77h1.5M145.52 345.23h1.5M143.62 332.48h1.5M121.32 352.38h1.5M127.81 377.22h1.5M120.3 351.03h1.5M152.57 321.03h1.5M150.25 280.82h1.5M128.99 422.05h1.5M127.89 330.05h1.5M148.46 374.6h1.5M131.71 307.34h1.5M156.99 333.01h1.5M128.74 298.68h1.5M140.27 359.29h1.5" stroke="#DDCC77" stroke-width="1.5" stroke-opacity="0.6" fill="none"/>
<path d="M148.82 405.07h1.5M140.35 357.62h1.5M154.85 390.87h1.5M148.04 346.54h1.5M136.69 343.37h1.5M156.36 308.92h1.5M146.3 352.5h1.5M118.75 327.65h1.5M125.08 343.06h1.5M149.03 374.73h1.5M123.92 330.11h1.5M140.1 323.1h1.5M123.17 326h1.5M133.42 294.87h1.5M155.09 280.66h1.5M142.03 272.93h1.5M120.01 378.07h1.5M118.61 327.79h1.5M153.87 341.25h1.5M125.82 333.55h1.5M126.21 384.58h1.5M151.64 379.58h1.5M134.03 339.94h1.5M123.6 288.82h1.5M129.16 286.05h1.5M123.69 388.43h1.5M120.41 326.54h1.5M138.46 314.14h1.5M128.1 285.28h1.5M124.62 366.85h1.5M120.86 347.76h1.5M145.52 361.83h1.5M147.74 359.92h1.5M145.99 329.69h1.5M143.13 375.36h1.5M127.75 358.95h1.5M131.82 371.31h1.5M133.19 418.85h1.5M126.36 348.26h1.5M155.4 280.67h1.5M135.99 371.33h1.5M130.42 278.39h1.5M131.67 416.33h1.5M122.18 320.2h1.5M147.9 385.87h1.5M143.83 306.7h1.5M155.06 359.61h1.5M148.56 350.03h1.5M133.5 303.51h1.5M152.87 282.73h1.5M131.52 369.49h1.5M124.33 339.99h1.5M134.93 375.84h1.5M153.5 372.01h1.5M133.35 318.54h1.5M126.86 333.47h1.5M154.11 321.23h1.5M120.71 413.3h1.5M140.94 296.54h1.5M136.34 340.31h1.5M140.3 351.55h1.5M146.26 446.42h1.5M126.56 403.79h1.5M121.89 376.01h1.5M129.43 281.33h1.5M135.46 353.66h1.5M123.83 320.99h1.5M151.31 327.81h1.5M148.3 382.84h1.5M137.17 360.94h1.5M123.32 344.52h1.5M141.48 324.85h1.5M151.46 310.63h1.5M142.02 392.58h1.5M146.88 364.63h1.5M128.24 382.07h1.5M139.18 303.67h1.5M134.1 365.36h1.5M147.64 330.91h1.5M143.27 356.21h1.5M128.28 354.43h1.5M134.2 352.27h1.5M149.03 300.6h1.5M149.33 321.45h1.5M124.86 299.71h1.5M146.46 339.54h1.5M149.46 306.14h1.5M127.25 329.43h1.5M144.02 392.51h1.5M138.81 322.5h1.5M146.28 398.47h1.5M134.63 424.13h1.5M142 346.31h1.5M130.79 313.84h1.5M137.23 373.25h1.5M126.43 363.66h1.5M127.57 349.18h1.5M148.42 390.12h1.5M137.05 378.68h1.5M155.53 308.14h1.5M140.58 306.44h1.5M132.53 308.26h1.5M150.96 317.17h1.5M150.34 343.08h1.5M127.76 355.53h1.5M131.67 359.48h1.5M148.51 355.65h1.5M118.89 385.83h1.5M140.61 370.43h1.5M148.53 374.61h1.5M126.64 389.3h1.5M129.91 418.88h1.5M124.38 348.76h1.5M132.09 296.3h1.5M136.7 373.13h1.5" stroke="#332288" stroke-width="1.5" stroke-opacity="0.45" fill="none"/>
<path d="M166.57 309.45h1.5M191.51 390.03h1.5M198.02 375.76h1.5M167.76 296.75h1.5M184.33 374.41h1.5M185.16 391.88h1.5M199.7 279.51h1.5M179.2 301.55h1.5M191.74 305.33h1.5M196.11 364.84h1.5M193.59 284.57h1.5M184.59 317.13h1.5M170.8 306.73h1.5M167.85 313.12h1.5M165.11 294.74h1.5M201.76 316.52h1.5M188.12 349.14h1.5M193.57 350.78h1.5M179.14 345.61h1.5M187.66 285.18h1.5M195.89 348.22h1.5M195.24 414.21h1.5M192.27 318.96h1.5M200.02 441.29h1.5M167.43 288.12h1.5M200.28 393.81h1.5M199.85 348.76h1.5M166.13 301.53h1.5M201.57 294.4h1.5M165.32 282.24h1.5M193.66 381.58h1.5M171.81 382.81h1.5M196.91 324.92h1.5M202.69 322.14h1.5M177.05 386.66h1.5M187.81 316.49h1.5M190.48 319.41h1.5M200.95 317.23h1.5M188.53 291.08h1.5M194.22 280.31h1.5M171.65 328.74h1.5M181.86 352.73h1.5M177.83 272.73h1.5M178.14 358.86h1.5M201.38 365.15h1.5M181.05 326.66h1.5M187.91 292.77h1.5M180.5 293.89h1.5M171.87 300.39h1.5M179.63 370.26h1.5M203.02 410.28h1.5M184.8 283.84h1.5M166.04 332.45h1.5M180.82 327.53h1.5M166.97 305.17h1.5M199.77 362.84h1.5M171.04 390.46h1.5M193.47 377.42h1.5M202.85 300.37h1.5M179.75 339.61h1.5M179.99 337.92h1.5M165.27 350.88h1.5M198.14 327.6h1.5M202.22 320.68h1.5M181.07 314.91h1.5M167.11 317.83h1.5M199.57 337.98h1.5M190.31 297.87h1.5M174.55 288.07h1.5M178.72 272.77h1.5M171.58 307.2h1.5M202.65 351.82h1.5M173.67 329.71h1.5M190.71 340.81h1.5M185.56 292.22h1.5M174.19 332.85h1.5M182.11 349.44h1.5M174.09 340.41h1.5M195.28 304.03h1.5M170.15 362.51h1.5M202.97 277.31h1.5M189.85 377.08h1.5M190.37 278.47h1.5M178.52 289.71h1.5M176.92 318.8h1.5M170.99 278.7h1.5M173.68 280.02h1.5M166.83 292.35h1.5M183.41 322.4h1.5M188.33 302.76h1.5M177.24 328.97h1.5M201 341.22h1.5M189.14 311.15h1.5M188.73 378.61h1.5M178.77 360.61h1.5M182.42 407.21h1.5M192.07 275.33h1.5M193.89 301.34h1.5M194.79 376h1.5M187.07 340.35h1.5M192 295.78h1.5M187.43 364.92h1.5M174.87 429.17h1.5M167.72 287.86h1.5M195.03 281.02h1.5M166.78 313.6h1.5M195.38 317.56h1.5M186.72 277.63h1.5M200.86 384.89h1.5M196.68 306.42h1.5M172.74 341.72h1.5M168.11 334.54h1.5M191.67 342.08h1.5" stroke="#CC6677" stroke-width="1.5" stroke-opacity="0.5" fill="none"/>
<path d="M190.13 281.28h1.5M167.14 343.01h1.5M197.68 346.93h1.5M182.29 352.73h1.5M171.95 321.94h1.5M202.44 381.82h1.5M190.63 410.2h1.5M167.81 314.84h1.5M165.62 338.9h1.5M189.35 291.58h1.5M175.6 362.45h1.5M177.7 357.01h1.5M187.13 366.92h1.5M190.41 288.86h1.5M201.94 313.62h1.5M166.4 331.51h1.5M201.7 333.92h1.5M179.09 345.98h1.5M174.95 304.93h1.5M185.76 272.25h1.5M173.02 327.83h1.5M197.6 303.86h1.5M198.17 310.08h1.5M198.27 313.6h1.5M192.51 271.7h1.5M191.29 359.19h1.5M191.21 300.1h1.5M186.58 309.21h1.5M203.72 296.94h1.5M171.49 375.44h1.5M194.07 368.58h1.5M186.41 421.76h1.5M185.32 310.41h1.5M187.55 308.57h1.5M195.87 379.54h1.5M165.98 349.35h1.5M185.41 305.81h1.5M166.78 329.28h1.5M185.72 365.02h1.5M191.22 310.48h1.5M188.46 309.23h1.5M201.77 282.35h1.5M194.94 288.53h1.5M169.6 361.76h1.5M176.51 379.39h1.5M187.34 355.69h1.5M178.94 304.64h1.5M191.44 339.46h1.5M166.97 346.22h1.5M184.69 347h1.5M201.57 285.23h1.5M190.31 298.15h1.5M189.21 327.8h1.5M201.38 277.85h1.5M170.09 354.74h1.5M182.1 345.51h1.5M184.4 289.44h1.5M199.41 340.07h1.5M170.81 292.54h1.5M191.29 360.27h1.5M177.47 364.96h1.5M203.02 292.66h1.5M199.91 362.29h1.5M176.73 342.8h1.5M165.81 321.18h1.5M168.85 341.83h1.5M173.26 296.91h1.5M180.09 308h1.5M165.88 334.81h1.5M165.85 354.55h1.5M173.44 330.91h1.5M192.06 356.53h1.5M187.95 283.37h1.5M188.27 273.26h1.5M178.77 346.05h1.5M168.13 397.54h1.5M195.93 356.93h1.5M167.05 322.97h1.5M202.38 349.95h1.5M184.58 337.04h1.5M187.84 297.16h1.5M166.5 326.68h1.5M200.01 324.85h1.5M169.38 349.85h1.5M172.8 316.45h1.5M195.08 358.39h1.5M187.6 282.88h1.5M191.31 355.34h1.5M183.73 380.22h1.5M177.18 351.74h1.5M188.13 323.24h1.5M165.25 281.49h1.5M182.48 335.57h1.5M194.49 360.42h1.5M175.4 314.6h1.5M194.52 280.81h1.5M201.26 333.41h1.5M194.61 368.9h1.5M172.61 327.81h1.5M178.34 285.66h1.5M192.25 298.01h1.5M199.39 292.72h1.5M177.52 303.07h1.5M170.16 302.34h1.5M196.32 397.44h1.5M177.25 319.62h1.5M193.95 293.35h1.5M192.53 340.22h1.5M190.53 384.08h1.5M175.44 308.62h1.5M173.16 319.82h1.5M199.24 380.95h1.5M192.19 271.66h1.5" stroke="#117733" stroke-width="1.5" stroke-opacity="0.45" fill="none"/>
<path d="M180.41 274.3h1.5M202.82 374.16h1.5M186.8 393.39h1.5M175.75 308.8h1.5M196.33 310.31h1.5M178.76 323.89h1.5M184.08 271.96h1.5M172.82 346.16h1.5M172.77 290.79h1.5M185.33 288.76h1.5M181.1 309.29h1.5M203.79 289.19h1.5M181.79 323.49h1.5M171.53 278.83h1.5M192.32 318.84h1.5M203.63 294.23h1.5M170.21 325.23h1.5M173.82 348.56h1.5M182.56 352.26h1.5M167.95 407.91h1.5M186.66 365.24h1.5M176.17 305.88h1.5M190.23 290.23h1.5M194.83 401.32h1.5M192.28 389.83h1.5M172.38 432.91h1.5M164.82 367.98h1.5M176.75 310.94h1.5M167.4 345.43h1.5M202.25 376.28h1.5M192.69 315.19h1.5M168.14 312.55h1.5M179.19 376.29h1.5M194.03 282.57h1.5M194.79 342.98h1.5M187.01 282.04h1.5M203.38 299.62h1.5M183.77 385.16h1.5M182.39 324.14h1.5M197.46 309.71h1.5M196.69 317.28h1.5M186.59 318.08h1.5M182.46 320.87h1.5M184.51 302.46h1.5M180.85 303.07h1.5M188.39 321.65h1.5M193.85 365.63h1.5M175.34 342.16h1.5M166.61 420.09h1.5M179.44 274.56h1.5M191.72 370.86h1.5M173.98 359.73h1.5M166.05 353.03h1.5M174.67 338.28h1.5M182.56 280.26h1.5M185.63 311.66h1.5M198.94 299.92h1.5M178.34 364.16h1.5M198.96 396.7h1.5M192.36 275.27h1.5M194.03 284.96h1.5M171.8 272.28h1.5M176.58 279.79h1.5M198.13 352.47h1.5M196.28 290.83h1.5M203.15 391.32h1.5M202.84 314.52h1.5M175.8 365.2h1.5M166.45 322.76h1.5M181.63 272.86h1.5M202.97 337.64h1.5M172.23 339.47h1.5M175.44 334.33h1.5M194.83 291.5h1.5M169.77 304.67h1.5M174.01 308.46h1.5M179.67 314.16h1.5M194 301.58h1.5M193.92 380.47h1.5M196.64 316.01h1.5M200.78 357.21h1.5M190.29 323.59h1.5M170.28 356.18h1.5M177.24 314.6h1.5M188.35 359.59h1.5M199.42 365.22h1.5M181.36 373.92h1.5M169.77 365.48h1.5M164.9 329.08h1.5M169.14 312.35h1.5M173.24 355.22h1.5M184.97 302.76h1.5M176.58 317.42h1.5M192.07 325.25h1.5M196.92 297.79h1.5M181.45 403.13h1.5M184.83 289.97h1.5M167.74 335.35h1.5M168.86 345.09h1.5M176.58 320.77h1.5M173.83 350.5h1.5M166.98 297.44h1.5M169.15 311.28h1.5M172.48 312.33h1.5M203.16 358.3h1.5M199.06 411.65h1.5M176.85 324.25h1.5M185.99 400.06h1.5M176.98 401.67h1.5M198.97 280.97h1.5M182.94 326.12h1.5M164.99 273.63h1.5M187.97 398.43h1.5" stroke="#DDCC77" stroke-width="1.5" stroke-opacity="0.6" fill="none"/>
<path d="M170.03 378.94h1.5M191.32 326.94h1.5M197.82 364.6h1.5M193.5 332.93h1.5M166.54 273.72h1.5M202.88 321.56h1.5M180.21 356.61h1.5M197.1 287.95h1.5M200.93 292.77h1.5M170.92 427.85h1.5M184.51 378.78h1.5M191.24 279.95h1.5M185.6 317.18h1.5M173.62 319.68h1.5M203.25 286.94h1.5M193.19 356.96h1.5M183.8 341.73h1.5M203.22 279.16h1.5M167.97 350.92h1.5M200.82 336.08h1.5M193.16 378.76h1.5M167.69 322.01h1.5M198.58 311.14h1.5M189.58 449.66h1.5M175.05 301.99h1.5M186.6 285.63h1.5M193.72 290.76h1.5M182.88 360.91h1.5M203.78 323.24h1.5M178.11 406.31h1.5M164.84 378.8h1.5M175.57 365.51h1.5M185.5 366.59h1.5M192.22 318.92h1.5M181.46 408.51h1.5M185.64 359.06h1.5M195.79 281.14h1.5M200.57 316.4h1.5M174.26 316.31h1.5M185.41 308.9h1.5M175.12 357.19h1.5M183.83 337.28h1.5M189.75 319.83h1.5M183.4 313.64h1.5M190.79 294.53h1.5M200.85 369.18h1.5M168.26 375.75h1.5M181.35 296.6h1.5M197.31 309.32h1.5M186.56 275.13h1.5M190.49 289.93h1.5M169.77 284.85h1.5M198.83 309.83h1.5M166.9 409.43h1.5M178.15 337.39h1.5M175.27 288.89h1.5M195.03 326.66h1.5M166.67 326.44h1.5M175.81 324.46h1.5M181.76 385.96h1.5M194.72 368.86h1.5M202.06 370.47h1.5M187.77 377.59h1.5M180.85 361.56h1.5M172.01 286.75h1.5M176.5 362.8h1.5M184.35 305.57h1.5M184.6 413.3h1.5M195.74 386.27h1.5M167.2 312.98h1.5M185.77 397.44h1.5M201.3 322.8h1.5M193.85 397.28h1.5M198.98 272.17h1.5M174.23 400.38h1.5M200.74 374.44h1.5M175.06 388.17h1.5M188.67 334.67h1.5M195.69 303.96h1.5M175.66 378.37h1.5M188.64 285.77h1.5M200.64 412.74h1.5M191.44 387.55h1.5M200.33 381.13h1.5M182.86 271.19h1.5M185.16 381.66h1.5M194.78 309.8h1.5M191.67 298.36h1.5M179.63 274.63h1.5M186 381.68h1.5M192.17 352.92h1.5M171.37 293.3h1.5M174.24 338.81h1.5M174.39 315.23h1.5M185.44 354.79h1.5M182.99 346.39h1.5M186.41 358.79h1.5M175.21 332.35h1.5M173.83 300.27h1.5M167.86 298.28h1.5M192.41 339.5h1.5M168.25 292.27h1.5M185.78 276.82h1.5M192.06 357.93h1.5M179.47 384.04h1.5M174.97 381.86h1.5M197.33 391.26h1.5M182.49 287.06h1.5M179.05 322.62h1.5M173.91 336.12h1.5M172.47 281.47h1.5M176.02 293.09h1.5M172.36 295.16h1.5M197.86 382.77h1.5M170.39 299.49h1.5" stroke="#332288" stroke-width="1.5" stroke-opacity="0.45" fill="none"/>
<path d="M221.44 304.13h1.5M220.57 351.65h1.5M215.73 300.94h1.5M229.42 341.09h1.5M219.5 379.73h1.5M211.08 324.73h1.5M213.35 337.67h1.5M242.85 309.74h1.5M245.13 344.14h1.5M249.9 299.85h1.5M212.66 355.3h1.5M242.59 342.49h1.5M211.77 301.16h1.5M231.86 347.42h1.5M235.46 367.52h1.5M244.53 302.81h1.5M240.26 363.49h1.5M226.72 330.31h1.5M246.07 331.88h1.5M222.55 316.34h1.5M243.5 406.29h1.5M235.94 386.73h1.5M223.39 314.57h1.5M214.4 328.12h1.5M225.22 345.41h1.5M237.33 370.88h1.5M229.77 277.06h1.5M231.1 337.72h1.5M244.18 372.48h1.5M232.12 353.5h1.5M216.26 347.43h1.5M245.53 319.08h1.5M243.13 275.8h1.5M229.72 356.83h1.5M238.12 342.81h1.5M247 361.49h1.5M237.46 346.56h1.5M239.38 380.04h1.5M247.01 344.91h1.5M218.35 276.66h1.5M225.52 304.37h1.5M240.65 339.08h1.5M229.09 376.58h1.5M214.01 385.05h1.5M245.04 312.23h1.5M249.2 305.03h1.5M242.38 349.42h1.5M233.55 343.42h1.5M224.78 324.91h1.5M224.9 419.22h1.5M240.3 286.21h1.5M222.11 362.55h1.5M222.24 390.92h1.5M236.04 307.63h1.5M247.9 370.98h1.5M239.42 338.92h1.5M238.59 333.44h1.5M242.71 338.69h1.5M227.65 296.33h1.5M213.82 374.36h1.5M214.73 362.21h1.5M233.44 387.23h1.5M247 296.15h1.5M237.15 335.19h1.5M234.07 313.15h1.5M217.35 323.69h1.5M221.38 315.06h1.5M244.51 344.5h1.5M236.05 453.23h1.5M250.05 369.01h1.5M232.05 316.04h1.5M214.36 342.56h1.5M220.45 317.29h1.5M212.63 310.06h1.5M230.98 298.05h1.5M247.07 331.33h1.5M225.36 354.08h1.5M247.14 304.27h1.5M235.4 303.15h1.5M215.2 432.6h1.5M241.06 359.06h1.5M226.28 364.61h1.5M249.06 380.7h1.5M221.23 361.95h1.5M230.33 342.7h1.5M223.38 392.48h1.5M227.27 371.49h1.5M230.85 349.44h1.5M247.91 410.04h1.5M237.34 354.88h1.5M215.64 374.07h1.5M232.56 281.65h1.5M227.01 309.62h1.5M225.61 333.82h1.5M242.47 362.64h1.5M225.94 341.7h1.5M222.51 331.3h1.5M248.42 319.17h1.5M217.89 300.94h1.5M225.82 341.14h1.5M211.72 416.19h1.5M239.53 343.29h1.5M244.93 376.98h1.5M248.05 284.2h1.5M213.02 311.66h1.5M215.42 280.95h1.5M225.07 350.47h1.5M240.36 314.19h1.5M224.57 300.17h1.5M245.53 341.24h1.5M213.7 350.29h1.5M236.15 363.97h1.5M213.55 400.29h1.5M246.93 325.37h1.5M225.52 310.86h1.5" stroke="#CC6677" stroke-width="1.5" stroke-opacity="0.5" fill="none"/>
<path d="M249.58 426.25h1.5M241.41 358.88h1.5M237.97 403.52h1.5M213.08 276.65h1.5M230.64 361.9h1.5M222.47 323.28h1.5M216.18 349.41h1.5M241.59 270.97h1.5M247.42 357.75h1.5M247.91 284.92h1.5M213.35 415.95h1.5M220.89 305.27h1.5M213.73 321.8h1.5M232.19 387.39h1.5M239.59 295.12h1.5M240.61 363.55h1.5M238.79 400.32h1.5M218.03 343.35h1.5M241.43 293.46h1.5M244.45 413.81h1.5M223.47 340.73h1.5M214.61 345.68h1.5M245.25 314.65h1.5M215.32 358.41h1.5M216.4 338.55h1.5M215.78 463.64h1.5M241.27 360.85h1.5M221.14 270.9h1.5M241.82 303.83h1.5M230.4 363.72h1.5M224.22 377.55h1.5M248.04 345.27h1.5M219.23 376.17h1.5M223.24 373.87h1.5M244.63 337.57h1.5M243.31 420.08h1.5M233.23 413.68h1.5M216.33 354.23h1.5M239.26 390.31h1.5M236.65 304.48h1.5M246.18 378.44h1.5M237.42 427.07h1.5M247.57 399.08h1.5M240.35 290.4h1.5M221.81 346.06h1.5M239.64 284.01h1.5M247.46 323.11h1.5M231.77 441.82h1.5M243.65 383.67h1.5M241.89 291.7h1.5M214.93 284.8h1.5M231.65 385.83h1.5M246.44 322.42h1.5M247.45 314.2h1.5M224.5 390.53h1.5M239.01 319.37h1.5M213.79 350.72h1.5M249.02 383.14h1.5M242.74 372.31h1.5M219.47 385.18h1.5M242.48 369.69h1.5M231.37 367.62h1.5M241.48 360.64h1.5M238.85 303.83h1.5M238.54 335.59h1.5M241.04 325.22h1.5M217.79 281.61h1.5M247.72 299.53h1.5M239.27 367.33h1.5M218.16 348.22h1.5M234.17 374.36h1.5M221.38 340.08h1.5M212.27 427.68h1.5M214.4 346.71h1.5M218.68 316.07h1.5M214.28 282.56h1.5M239.08 404.35h1.5M248.57 328.97h1.5M226.49 270.84h1.5M224.32 412.24h1.5M246.37 386.21h1.5M239.99 315.78h1.5M217.51 339.34h1.5M236.21 395h1.5M238.98 308.84h1.5M224.43 298.34h1.5M244.89 350.37h1.5M211.48 335.12h1.5M241.74 337.81h1.5M214.19 355.59h1.5M246.06 322.34h1.5M216.49 396.33h1.5M247.58 399.45h1.5M215.76 402.86h1.5M221.58 307.15h1.5M243.34 293.7h1.5M233.42 349.65h1.5M231.6 290.01h1.5M233.81 300.1h1.5M229.07 329.44h1.5M214.04 318.22h1.5M231.58 374.68h1.5M215.53 408.47h1.5M250.12 374.52h1.5M228.48 407.39h1.5M248.49 396.19h1.5M234.82 304.89h1.5M221.21 323.31h1.5M239.36 313.79h1.5M211.91 277.48h1.5M246.7 327.27h1.5M211.75 347.2h1.5M238.21 344.1h1.5M234.63 357.4h1.5M214.94 329.33h1.5" stroke="#117733" stroke-width="1.5" stroke-opacity="0.45" fill="none"/>
<path d="M249.86 406.55h1.5M245.54 383.87h1.5M232.89 334.3h1.5M245.88 371.52h1.5M228.76 356.94h1.5M226.83 403.73h1.5M215.69 375.14h1.5M223.84 379.92h1.5M235.33 351.89h1.5M221.94 379.22h1.5M229.52 369.68h1.5M228.39 427.81h1.5M247.75 342.29h1.5M221.68 324.23h1.5M211.52 301.19h1.5M228.44 286.9h1.5M225.47 275.98h1.5M248.22 331.63h1.5M241.37 307.63h1.5M219.25 395.8h1.5M216.88 307.37h1.5M229.4 385.92h1.5M232.89 373.03h1.5M233.85 306.29h1.5M236.47 314.72h1.5M231.51 358.26h1.5M216.35 314.99h1.5M242.41 333.68h1.5M214.41 305.94h1.5M213.88 327.57h1.5M231.02 324.09h1.5M223.46 348.7h1.5M233.59 352.09h1.5M212.36 348.82h1.5M228.88 298.91h1.5M228.01 294.45h1.5M243.3 377.91h1.5M233.32 298.91h1.5M234.5 281.5h1.5M243.97 324.76h1.5M242.88 338.65h1.5M231.57 298.2h1.5M243.26 348.16h1.5M213.56 332.17h1.5M224.89 334.54h1.5M240.48 312.78h1.5M233.67 317.75h1.5M217.61 296.9h1.5M220.21 354.13h1.5M224.35 378.74h1.5M237.86 321.32h1.5M234.77 282.32h1.5M245.23 394.67h1.5M238.02 296.94h1.5M237.21 364.47h1.5M247.84 293.91h1.5M222.8 319.54h1.5M228.37 374.41h1.5M241.39 315.97h1.5M213.58 326.97h1.5M216.25 320.83h1.5M234.22 307.95h1.5M244.87 346.97h1.5M216.19 364.58h1.5M224.32 349.54h1.5M219.12 348.03h1.5M237.95 352.27h1.5M249.22 384.82h1.5M213.83 313.49h1.5M227.2 344.87h1.5M230.24 383.47h1.5M228.25 294.86h1.5M236.87 314.69h1.5M222.1 375.08h1.5M227.74 359.14h1.5M246.68 290.32h1.5M230.67 318.04h1.5M225.43 293.16h1.5M217.41 362.91h1.5M229.09 430.56h1.5M223.42 353.02h1.5M216.49 271.18h1.5M226.2 284.07h1.5M247.25 329.14h1.5M226.66 394.52h1.5M224.23 340.74h1.5M213.37 375.55h1.5M216.49 382.07h1.5M245.11 386.26h1.5M211.3 271.65h1.5M221.25 296.62h1.5M246.37 375.41h1.5M250.11 359.55h1.5M227.32 297.04h1.5M230.47 337.99h1.5M226.36 296.81h1.5M213.05 295.57h1.5M244.62 344.58h1.5M229.78 362.83h1.5M230.26 399.8h1.5M227.08 296.76h1.5M214.38 322.27h1.5M239.51 338.25h1.5M226.62 292.14h1.5M233.14 338.68h1.5M220.57 380.88h1.5M229.34 367.89h1.5M223.6 365.56h1.5M219.4 342.31h1.5M249.11 297.99h1.5M245.33 318.27h1.5M246.27 340.64h1.5M223.91 330.36h1.5M238.1 319.43h1.5M224.04 380.79h1.5" stroke="#DDCC77" stroke-width="1.5" stroke-opacity="0.6" fill="none"/>
<path d="M214.15 355.74h1.5M234.82 371.01h1.5M249.56 330.4h1.5M218.37 333.93h1.5M226.86 338.84h1.5M242.48 336.51h1.5M230.77 285.4h1.5M228.99 320.11h1.5M212.32 311.31h1.5M245.87 414.46h1.5M238.52 400.2h1.5M245.68 317.51h1.5M221.99 337.88h1.5M217.75 324.06h1.5M216.8 373.66h1.5M221.53 291.16h1.5M247.61 325.19h1.5M223.81 447.41h1.5M228.38 320.88h1.5M233.77 377.19h1.5M239.01 302.94h1.5M220.38 418.72h1.5M235.47 342.31h1.5M221.52 374.4h1.5M221.61 291.85h1.5M216.83 430.12h1.5M234.36 298.88h1.5M213.15 275.78h1.5M215.31 420.2h1.5M225.06 350.11h1.5M233.71 321.66h1.5M242.48 345h1.5M225.7 290.46h1.5M232.09 325.83h1.5M236.85 374.32h1.5M211.99 328.95h1.5M245.06 377.07h1.5M238.87 317.43h1.5M225.31 367.69h1.5M249.04 405.86h1.5M232.29 285.07h1.5M212.28 365h1.5M216.09 307.4h1.5M240.88 344.25h1.5M235.85 362.27h1.5M211.59 411.97h1.5M232.71 338.95h1.5M247.71 320.8h1.5M220.83 342.29h1.5M216.98 279.91h1.5M225.78 363.68h1.5M246.71 296.36h1.5M249.69 426.37h1.5M232.24 350.43h1.5M233.09 317.54h1.5M224.23 302.7h1.5M231.22 396.85h1.5M230.59 291.4h1.5M229.07 273.8h1.5M246.24 321.03h1.5M218.57 403.44h1.5M245.95 274.59h1.5M244.88 292.55h1.5M246.97 289.42h1.5M230.95 336.12h1.5M222.25 277.18h1.5M238.09 330.57h1.5M218.72 325.06h1.5M214.51 396.53h1.5M217.37 301.22h1.5M212.75 383.64h1.5M248.34 318.51h1.5M236.01 310.28h1.5M223.24 413.53h1.5M238.81 359.96h1.5M218.24 417.8h1.5M243.68 374.32h1.5M214.61 372.51h1.5M226.19 379.8h1.5M248.09 387.52h1.5M229.67 338.52h1.5M248.55 272.51h1.5M217.53 312.25h1.5M221.3 358.43h1.5M245.95 338.39h1.5M241.46 376.69h1.5M222.31 351.54h1.5M236.64 328.78h1.5M211.84 339.01h1.5M234.98 346.29h1.5M244.09 353.35h1.5M237.13 277.43h1.5M236.07 337.8h1.5M246.57 323.38h1.5M233.36 336.65h1.5M249.39 401.61h1.5M234.01 326.04h1.5M223.6 409.51h1.5M215.69 307.95h1.5M236.47 321.72h1.5M242.99 329.79h1.5M244.6 297.45h1.5M247.39 320.21h1.5M212.35 398.67h1.5M245.59 342.71h1.5M223.29 384.84h1.5M243.92 352.08h1.5M246.47 303.42h1.5M232.08 331.44h1.5M219.97 288.1h1.5M217.24 331.94h1.5M240.15 388.23h1.5M211.46 347.5h1.5M230.08 314.44h1.5M212.29 373.79h1.5" stroke="#332288" stroke-width="1.5" stroke-opacity="0.45" fill="none"/>
<path d="M281.91 407.52h1.5M285.31 360.01h1.5M286.16 438.86h1.5M288.01 314.51h1.5M288.94 319.8h1.5M294.45 318.27h1.5M274.14 334.24h1.5M270.84 356.59h1.5M288.94 341.55h1.5M261.43 363.43h1.5M296 357.21h1.5M280.96 327.21h1.5M296.08 348.44h1.5M292.18 352.53h1.5M288.12 346.52h1.5M286.36 440.16h1.5M261.87 320.53h1.5M288.53 362.79h1.5M294.15 357.03h1.5M282 372.02h1.5M274.89 359.61h1.5M290.13 337.89h1.5M262.23 354.93h1.5M290.2 370.23h1.5M295.69 291.22h1.5M283.15 295.56h1.5M259.75 357.01h1.5M281.68 412.67h1.5M270.63 333.19h1.5M271.65 289.59h1.5M280.2 427.34h1.5M276.64 462.63h1.5M284.03 436.84h1.5M263.79 330.06h1.5M282.79 390.68h1.5M258.88 301.45h1.5M266.97 351.44h1.5M270.29 300.91h1.5M292.63 341.71h1.5M286.23 410.8h1.5M291.2 413.32h1.5M274.98 385.45h1.5M290.96 397.58h1.5M260.55 341.72h1.5M293.7 282.92h1.5M281.93 343.79h1.5M267.83 390.63h1.5M294.5 297.42h1.5M262.72 272.27h1.5M292.12 320.19h1.5M283.24 414.75h1.5M272.95 437.77h1.5M290.65 273.82h1.5M284.5 294.99h1.5M268.83 296.26h1.5M286.73 401h1.5M295.66 333.87h1.5M264.49 325.14h1.5M261.4 281.83h1.5M288.15 410.9h1.5M259.16 334.66h1.5M288.82 370.77h1.5M271.91 441.06h1.5M259.19 412.49h1.5M270.81 414.95h1.5M288.02 384.29h1.5M282.08 429.22h1.5M290.88 374.05h1.5M288.32 341.93h1.5M258.08 366.41h1.5M263.55 405.89h1.5M288.66 274.1h1.5M264.41 361.48h1.5M275.03 382.94h1.5M285.26 377.67h1.5M259.93 339.01h1.5M285.2 409.77h1.5M288.05 413.84h1.5M271.73 341.15h1.5M259.99 329.38h1.5M259.1 433.63h1.5M279.93 306.02h1.5M292.23 343.83h1.5M259.32 370.73h1.5M285.76 315.49h1.5M294.12 373.31h1.5M269.49 358.54h1.5M261.63 389.5h1.5M261.72 300.43h1.5M283.58 365.63h1.5M260.53 336.23h1.5M263.97 341.07h1.5M289.31 345.31h1.5M287.43 365.7h1.5M288.64 364.06h1.5M293.21 408.98h1.5M286.6 376.09h1.5M289.15 345.59h1.5M266.63 348.03h1.5M267.74 397.31h1.5M264.53 379.89h1.5M277.94 410.57h1.5M294.74 329.53h1.5M271.64 397.78h1.5M279.01 345.92h1.5M287.82 370.24h1.5M274.72 302.75h1.5M277.99 311.73h1.5M281.33 287.93h1.5M266.23 390.44h1.5M267.21 353.62h1.5M272.3 434.54h1.5M290.6 352.94h1.5M281.51 296.64h1.5" stroke="#CC6677" stroke-width="1.5" stroke-opacity="0.5" fill="none"/>
<path d="M262.85 313.6h1.5M289.95 304.13h1.5M287.19 363.5h1.5M272.72 340.61h1.5M288.82 297.35h1.5M293.14 324.98h1.5M292.57 344.31h1.5M290.59 338.39h1.5M276.19 284.4h1.5M264.29 341.28h1.5M266.78 457.51h1.5M289.93 321.14h1.5M262.12 301.18h1.5M262.76 347.81h1.5M286.46 393.14h1.5M296.48 321.3h1.5M277.67 436.57h1.5M277.4 297.98h1.5M276.09 300.52h1.5M295.05 332.33h1.5M292.64 373.87h1.5M258.11 327.13h1.5M287.69 321.05h1.5M290.63 278.71h1.5M272.09 327.32h1.5M295.22 286.79h1.5M270.32 380.38h1.5M290.38 427.28h1.5M295.8 296.4h1.5M286.24 349.34h1.5M277.05 362.68h1.5M259.22 332.8h1.5M284.5 334.99h1.5M277.15 420.3h1.5M296.38 434.39h1.5M289.93 279.42h1.5M260.54 331.11h1.5M293.04 340h1.5M270.41 284.69h1.5M265.58 296.19h1.5M280.66 301.45h1.5M290.24 286.04h1.5M272.1 381.73h1.5M268 312.83h1.5M267.5 449.7h1.5M258.77 317.9h1.5M261.59 392.49h1.5M290.6 338.05h1.5M279.37 270.64h1.5M282.61 315.58h1.5M271.51 335.11h1.5M274.48 375.19h1.5M266.75 328.76h1.5M288.01 318.4h1.5M285.88 336.95h1.5M261.86 282.92h1.5M269.39 420.18h1.5M272.46 341.06h1.5M270.98 365.52h1.5M260.14 379.88h1.5M289.62 393.56h1.5M283.09 286.14h1.5M273.16 390.76h1.5M291.26 380.2h1.5M286.71 381.63h1.5M262.17 384.94h1.5M283.58 366.13h1.5M287.05 384.18h1.5M267.51 407.35h1.5M265.39 334.89h1.5M262.76 302.87h1.5M258.85 399.07h1.5M272.18 418.18h1.5M278.4 449.48h1.5M268.1 359.87h1.5M270.54 361.47h1.5M263.32 335.69h1.5M286.07 315.84h1.5M287.18 318.33h1.5M280.52 333.27h1.5M282.1 309.33h1.5M281.8 318.02h1.5M268.59 360.06h1.5M290.97 360.38h1.5M276.91 363.97h1.5M287.28 335.26h1.5M275.09 365.02h1.5M288.51 407.9h1.5M281.23 330.86h1.5M264.01 386.25h1.5M286.38 411.45h1.5M264.92 296.69h1.5M261.26 385.1h1.5M289.71 429.61h1.5M289.09 412.15h1.5M283.39 388.66h1.5M269.19 420.76h1.5M266.22 383.63h1.5M286.26 326.14h1.5M258.6 350.51h1.5M283.12 390.69h1.5M271.75 390.08h1.5M265.12 325.97h1.5M285.32 364.32h1.5M290 353.2h1.5M272.31 311.59h1.5M284.12 380.06h1.5M273.01 308h1.5M271.89 324.99h1.5M259.42 415.76h1.5M289.82 282.91h1.5M271.47 368.57h1.5M257.89 294.29h1.5M274.25 401.28h1.5" stroke="#117733" stroke-width="1.5" stroke-opacity="0.45" fill="none"/>
<path d="M281.34 408.06h1.5M286.74 310.27h1.5M265.25 296.93h1.5M280.4 382.83h1.5M265.43 367.96h1.5M284.98 453.77h1.5M263.3 350.14h1.5M286.22 351.95h1.5M291.48 388.39h1.5M278.67 338.65h1.5M271.52 278.37h1.5M275.88 305.84h1.5M279.43 398.45h1.5M295.32 314.55h1.5M272.83 325.91h1.5M281.67 344.11h1.5M277.44 346.96h1.5M267.32 336.49h1.5M274.01 443.06h1.5M291.11 276.46h1.5M268.31 311.78h1.5M279.56 364.42h1.5M264.39 340.16h1.5M280.35 365h1.5M289.3 388.9h1.5M263.52 375.44h1.5M275.84 312.16h1.5M284.91 334.61h1.5M288.88 414.79h1.5M286.14 352.18h1.5M281.87 311.11h1.5M286.72 358.93h1.5M292.57 380.12h1.5M288.98 410.73h1.5M273.94 462.09h1.5M268.81 362.27h1.5M282.84 325.67h1.5M284.32 341.1h1.5M257.95 308.21h1.5M288.2 348.22h1.5M291.72 273.05h1.5M270.57 338.82h1.5M286.81 289.43h1.5M267.75 404.57h1.5M281.75 356.38h1.5M278.29 371.2h1.5M282.99 383.74h1.5M276.76 277.48h1.5M273.87 374.7h1.5M295.88 413.13h1.5M269 325.51h1.5M296.15 400.68h1.5M263.05 466.7h1.5M273.71 416h1.5M294.25 325.41h1.5M259.29 378.95h1.5M286.27 416.58h1.5M294.82 369.4h1.5M259.26 377.71h1.5M281 321.24h1.5M275.5 333.45h1.5M272.6 405.99h1.5M281.89 346.68h1.5M285.98 364.87h1.5M273.01 293.5h1.5M283.12 430.37h1.5M283.28 394.22h1.5M261.63 396.23h1.5M269.94 404.95h1.5M274.69 336.54h1.5M288.12 433.42h1.5M290.24 312.54h1.5M277.23 427.16h1.5M273.74 379.45h1.5M290.51 324.84h1.5M272.71 322.94h1.5M262.64 406.82h1.5M279.53 399.01h1.5M261.22 312.99h1.5M270.39 334.84h1.5M273.74 329.49h1.5M293.23 343.08h1.5M261.58 302.6h1.5M269.42 340.88h1.5M275.52 442.74h1.5M274.31 357.72h1.5M285.41 411.63h1.5M284.37 334.1h1.5M274.27 362.05h1.5M263.82 435.53h1.5M270.1 366.43h1.5M260.21 347h1.5M296.46 318.36h1.5M291.85 423.53h1.5M263.33 399.13h1.5M270.65 329h1.5M289.48 303.85h1.5M281.85 336.52h1.5M271.17 273.52h1.5M281.75 384.8h1.5M259.19 276.06h1.5M278.09 310.83h1.5M289.37 331.73h1.5M263.63 348.79h1.5M263.85 374.47h1.5M261.26 341.46h1.5M264.28 441.17h1.5M270.15 352.71h1.5M284.83 425.89h1.5M293.12 279.45h1.5M261.57 319.17h1.5M289.65 351.25h1.5M283.49 419.21h1.5M272.96 392.86h1.5" stroke="#DDCC77" stroke-width="1.5" stroke-opacity="0.6" fill="none"/>
<path d="M284.56 382.45h1.5M282.77 424.26h1.5M265.42 346.49h1.5M277.08 353.46h1.5M296.4 345.84h1.5M292.99 339.07h1.5M270.02 297.01h1.5M282.23 378.83h1.5M258.55 363.88h1.5M282.56 312.2h1.5M262.56 380.97h1.5M291.67 402.02h1.5M273.63 356.33h1.5M292.82 375.08h1.5M269.49 273.57h1.5M270.69 337.03h1.5M290.33 406.44h1.5M285.43 384.25h1.5M272.9 410.21h1.5M264.65 348.83h1.5M278.7 346.14h1.5M291.92 361.67h1.5M283.8 400.97h1.5M296.13 441.17h1.5M266.47 349.04h1.5M271.9 303.97h1.5M295.09 320.17h1.5M282.97 419.49h1.5M283.45 354.95h1.5M272.87 352.5h1.5M267.56 316.11h1.5M277.5 330.34h1.5M272.14 430.42h1.5M268.89 373.4h1.5M276.68 311.3h1.5M264.08 294.6h1.5M289.51 333.77h1.5M284.38 319.65h1.5M269.06 283.64h1.5M274.79 446.5h1.5M292.82 365.43h1.5M293.79 332.48h1.5M272.33 281.86h1.5M294.66 407.51h1.5M272.87 398.35h1.5M286.71 342.2h1.5M274.38 419.11h1.5M262.47 385.97h1.5M283.68 314.64h1.5M291.17 372.51h1.5M293.41 377.76h1.5M279.97 343.64h1.5M271.44 391.14h1.5M260.53 423.45h1.5M287.18 328.94h1.5M260.72 327.25h1.5M262.1 353.67h1.5M281.1 343.75h1.5M293.29 369.9h1.5M268.13 317.83h1.5M261.76 300.64h1.5M264.73 366.78h1.5M260.54 336.12h1.5M295.89 326.44h1.5M257.88 374.21h1.5M284.71 359.3h1.5M263.99 376.11h1.5M260.59 334.2h1.5M284.58 351.65h1.5M258.92 322.54h1.5M258.84 349.02h1.5M260.06 340.76h1.5M270.51 421.39h1.5M261.78 401.83h1.5M291.74 340.7h1.5M293.22 375.98h1.5M271.04 272.13h1.5M276.87 354.11h1.5M288.67 304.75h1.5M267.16 397.64h1.5M272.6 414.07h1.5M293.67 351.07h1.5M281.68 300.76h1.5M262.59 274.8h1.5M294.67 374.83h1.5M279.35 384.69h1.5M280.63 337.52h1.5M286.62 329.34h1.5M272.3 347.56h1.5M265.5 458.79h1.5M286.29 402.81h1.5M283.82 398.55h1.5M257.92 286.95h1.5M286.66 287.63h1.5M266.93 322.78h1.5M276.13 358.62h1.5M291.09 422.96h1.5M268.07 351.05h1.5M283.56 274.91h1.5M279.06 339.18h1.5M290.83 325.81h1.5M275.14 323.4h1.5M289.49 370.27h1.5M292 323.59h1.5M295.81 350.16h1.5M294.57 417.34h1.5M284.87 339.79h1.5M279.57 357.31h1.5M258.44 406.42h1.5M275.75 297.98h1.5M295.52 333.2h1.5M257.96 314.72h1.5M280.32 302.28h1.5M260.87 376.77h1.5M259.26 329.01h1.5M287.13 355.42h1.5M283.8 391.56h1.5" stroke="#332288" stroke-width="1.5" stroke-opacity="0.45" fill="none"/>
<path d="M307.25 402.87h1.5M313.17 435.49h1.5M305.19 425.21h1.5M326.88 414.29h1.5M310.77 368.81h1.5M319.27 367.66h1.5M306.48 433.7h1.5M316.75 372.08h1.5M324.44 424.36h1.5M312.78 372.01h1.5M333.49 406.07h1.5M340.4 403.48h1.5M310.23 432.05h1.5M331.81 387.25h1.5M328.93 442.85h1.5M313.56 443.85h1.5M305.94 390.76h1.5M329.86 428.89h1.5M331.38 401.69h1.5M321.21 436.5h1.5M332.97 436.4h1.5M336.66 461.74h1.5M328.54 419.35h1.5M304.69 389.73h1.5M326.24 344.04h1.5M337.28 420.41h1.5M324.73 430.41h1.5M317.52 434.05h1.5M325.58 395.05h1.5M320.1 379.54h1.5M332.56 360.98h1.5M304.88 407.35h1.5M314.39 469.51h1.5M330.16 429.42h1.5M338.17 423.43h1.5M318.91 410.59h1.5M304.92 413.25h1.5M311.34 466.72h1.5M312.28 441.09h1.5M340.57 413.6h1.5M311.13 412.05h1.5M306.1 426.36h1.5M330.8 468.66h1.5M329.2 403.22h1.5M316.47 386h1.5M314.93 427.02h1.5M341.56 440.28h1.5M328.41 411.95h1.5M317.97 426.52h1.5M329.09 420.21h1.5M306.59 391.38h1.5M335.63 389.06h1.5M340.07 408.63h1.5M313.25 414.48h1.5M329.21 411.25h1.5M316.78 413.19h1.5M330.01 364.27h1.5M332.44 394.85h1.5M312.79 458.96h1.5M323.36 448.8h1.5M306.01 439.47h1.5M307.26 414.08h1.5M330.51 452.66h1.5M312.99 445.41h1.5M336.5 389.48h1.5M324.26 429.32h1.5M304.27 390.53h1.5M319.92 398.68h1.5M341.3 432.34h1.5M311.23 453.01h1.5M319.31 425.59h1.5M315.99 378.92h1.5M323.55 425.88h1.5M333.42 420.72h1.5M309.55 413.29h1.5M320.08 408.18h1.5M309.78 441.28h1.5M339.45 420.11h1.5M306.53 405.66h1.5M333.04 461.43h1.5M330.7 449.26h1.5M309.24 396.65h1.5M324.33 448.43h1.5M342.41 407.89h1.5M326.79 422.86h1.5M317.51 392.25h1.5M327.59 422.33h1.5" stroke="#CC6677" stroke-width="1.5" stroke-opacity="0.5" fill="none"/>
<path d="M325.03 345.76h1.5M324.32 429.11h1.5M340.58 457.46h1.5M337.17 402.58h1.5M337.21 406.06h1.5M335.13 403.67h1.5M325.46 435.01h1.5M305.26 434.29h1.5M311.3 467.33h1.5M336.78 424.97h1.5M309.32 413.72h1.5M321.52 429.33h1.5M320.9 378.28h1.5M331.19 415.05h1.5M308.02 429.84h1.5M337.01 412.29h1.5M327.84 431.94h1.5M311.28 412.54h1.5M309.66 374.9h1.5M307.09 396.98h1.5M319.48 428.14h1.5M336.04 433.28h1.5M326.94 412.99h1.5M328.89 450.63h1.5M318.2 365.27h1.5M306.02 412.42h1.5M319.87 361.13h1.5M319.8 413.93h1.5M307.25 427.62h1.5M305.18 432.37h1.5M322.16 413.13h1.5M342.41 373.48h1.5M334.57 414.14h1.5M329.99 405.81h1.5M313.95 438.87h1.5M338.74 417.43h1.5M320.91 381.26h1.5M325.17 443.8h1.5M308.06 402.32h1.5M308.75 456.66h1.5M311.36 467.96h1.5M313.48 408.33h1.5M316.87 428.46h1.5M304.29 416.89h1.5M334.44 441.69h1.5M313.48 393.06h1.5M313.49 405.77h1.5M331.7 452.09h1.5M330.33 383.93h1.5M327.05 442.43h1.5M324.19 419.77h1.5M319.64 418h1.5M336.96 426.11h1.5M329.1 361.32h1.5M311.1 390.52h1.5M326.19 422.87h1.5M310.11 397.08h1.5M328.34 422.93h1.5M319.43 387.82h1.5M332.9 391.01h1.5M325.74 413.55h1.5M313.96 397.47h1.5M318.18 404.05h1.5M307.56 380.02h1.5M308.09 440.67h1.5M308.61 412.19h1.5M335.96 441.63h1.5M335.16 408.23h1.5M320.73 383.71h1.5M323.92 446.29h1.5M315.94 447.49h1.5M317.3 426.4h1.5M313.93 421.04h1.5M324.22 381.25h1.5M326.06 443.59h1.5M340.9 429.19h1.5M323.02 470.97h1.5M341.34 448.51h1.5M308.43 440.81h1.5M308.64 381.13h1.5M306.46 459.33h1.5M326.25 464.19h1.5M325.41 427.76h1.5M321.67 378.5h1.5M320.03 396.24h1.5M330.54 451.16h1.5M326.13 426.29h1.5" stroke="#117733" stroke-width="1.5" stroke-opacity="0.45" fill="none"/>
<path d="M316.45 465.77h1.5M322.3 348.71h1.5M334.32 415.26h1.5M339.66 435.85h1.5M341.06 447.97h1.5M319.88 433.49h1.5M321.41 402.63h1.5M313.99 438.1h1.5M323.33 434.33h1.5M332.7 425.55h1.5M340.14 467.27h1.5M338.84 423.3h1.5M304.68 348.73h1.5M331.09 429.45h1.5M336.27 370.17h1.5M305.37 410.3h1.5M339.32 440.23h1.5M327.18 418.2h1.5M305.61 374.02h1.5M312.21 412.32h1.5M335.41 357.4h1.5M321.51 380.86h1.5M317.56 404.27h1.5M329.2 417.65h1.5M308.34 386.5h1.5M307.43 396.07h1.5M337.63 354.64h1.5M337.18 408.29h1.5M330.19 434.32h1.5M317.75 443.75h1.5M324.01 457.47h1.5M316.49 376.35h1.5M342.43 410.78h1.5M341.8 415.96h1.5M316.71 452.16h1.5M331.88 388.36h1.5M317.05 415.5h1.5M334.49 450.06h1.5M332.81 391.33h1.5M336.23 429.07h1.5M325.24 437.34h1.5M327.52 391.9h1.5M328.77 411.51h1.5M310.78 424.66h1.5M312.93 407.59h1.5M330.38 377.54h1.5M339.61 428.98h1.5M332.99 441.3h1.5M316.54 396.39h1.5M328.81 402.22h1.5M319.81 453.7h1.5M327.3 444.02h1.5M311.85 383.28h1.5M318.36 395.24h1.5M332.12 430.37h1.5M321.75 407.13h1.5M332.4 442.07h1.5M334.48 451.81h1.5M309.28 399.04h1.5M315.8 409.87h1.5M329.09 384.42h1.5M310.09 421.14h1.5M316.69 435.32h1.5M334.6 386.85h1.5M329.57 391.47h1.5M340.14 407.49h1.5M318 456.51h1.5M333.52 445.74h1.5M319.23 363.9h1.5M324.18 416.49h1.5M327.44 397.41h1.5M337.83 392.13h1.5M311.31 377.44h1.5M336.2 440.3h1.5M339.32 434.54h1.5M317.51 451.58h1.5M342.01 364.99h1.5M335.29 370.15h1.5M341.85 448.52h1.5M306.6 438.8h1.5M307.19 405.32h1.5M324.25 373.16h1.5M308.51 363.78h1.5M329.18 386.89h1.5M313.78 425.42h1.5M341.01 409.42h1.5M335.41 458.95h1.5" stroke="#DDCC77" stroke-width="1.5" stroke-opacity="0.6" fill="none"/>
<path d="M307.79 408.28h1.5M306.69 383.47h1.5M333.26 429.94h1.5M305.68 405.99h1.5M313.46 409.25h1.5M307.43 383.47h1.5M335.33 407.95h1.5M342 469.76h1.5M326.25 398.04h1.5M311.41 392.69h1.5M305.91 448.61h1.5M333.42 364.07h1.5M328.56 420.54h1.5M333.26 391.8h1.5M326.37 429.51h1.5M334.77 425.07h1.5M313.77 406.84h1.5M305.71 413.8h1.5M318.03 392.07h1.5M341.52 425.16h1.5M311.82 450.14h1.5M326.33 437.18h1.5M308.23 429.66h1.5M310.03 433.99h1.5M313.8 367.38h1.5M324.37 412.89h1.5M309.04 469.58h1.5M334.39 415.03h1.5M307.92 403.82h1.5M341.42 445.17h1.5M326.41 417.3h1.5M314.06 426.42h1.5M312.5 429.94h1.5M315.44 349.2h1.5M330.58 387.85h1.5M304.06 421.36h1.5M313.17 461.82h1.5M339.21 399.93h1.5M329.49 411.27h1.5M325.29 464.99h1.5M327.77 460.88h1.5M337.47 395.01h1.5M306.15 387.01h1.5M312.2 414.55h1.5M321.05 368.18h1.5M342.09 445.33h1.5M323.54 459.13h1.5M317.86 448.21h1.5M320.12 406.38h1.5M305.1 378.77h1.5M319.38 439.53h1.5M328.24 408.51h1.5M329.31 417.38h1.5M314.45 454.16h1.5M313.41 394.85h1.5M340.06 392.88h1.5M323.04 418.05h1.5M304.83 400.49h1.5M342.74 438.12h1.5M339.52 404.19h1.5M305.82 432.05h1.5M318.19 376.24h1.5M307.58 410.28h1.5M331.69 460.49h1.5M312.33 362.88h1.5M331.13 395.76h1.5M328.72 372.02h1.5M335.84 464.24h1.5M324.71 454.29h1.5M321.54 449.48h1.5M330.3 369.31h1.5M326.16 420.77h1.5M333.79 423.11h1.5M314.85 397.59h1.5M327.97 455.97h1.5M329.79 409.96h1.5M341.48 455.77h1.5M308.03 442.46h1.5M337.24 406.52h1.5M309.04 454.05h1.5M327.17 418.67h1.5M327.96 454.37h1.5M318.28 392.76h1.5M325.01 453.56h1.5M322.61 410.14h1.5M337.3 424.87h1.5M320.94 384.21h1.5M338.2 433.62h1.5M321.88 425.5h1.5M339.39 431.15h1.5" stroke="#332288" stroke-width="1.5" stroke-opacity="0.45" fill="none"/>
<line x1="69.9" y1="411.9" x2="109.2" y2="411.9" stroke="#CC6677" stroke-width="1.7" stroke-linecap="butt"/>
<line x1="69.9" y1="399.6" x2="109.2" y2="399.6" stroke="#117733" stroke-width="1.7" stroke-dasharray="1.65 4.95 6.6 4.95" stroke-linecap="round"/>
<line x1="69.9" y1="383.9" x2="109.2" y2="383.9" stroke="#DDCC77" stroke-width="1.7" stroke-dasharray="6.6 6.6" stroke-linecap="round"/>
<line x1="69.9" y1="391.2" x2="109.2" y2="391.2" stroke="#332288" stroke-width="1.7" stroke-dasharray="1.65 4.95" stroke-linecap="round"/>
<line x1="117.1" y1="348.1" x2="156.2" y2="348.1" stroke="#CC6677" stroke-width="1.7" stroke-linecap="butt"/>
<line x1="117.1" y1="331" x2="156.2" y2="331" stroke="#117733" stroke-width="1.7" stroke-dasharray="1.65 4.95 6.6 4.95" stroke-linecap="round"/>
<line x1="117.1" y1="334.9" x2="156.2" y2="334.9" stroke="#DDCC77" stroke-width="1.7" stroke-dasharray="6.6 6.6" stroke-linecap="round"/>
<line x1="117.1" y1="333.2" x2="156.2" y2="333.2" stroke="#332288" stroke-width="1.7" stroke-dasharray="1.65 4.95" stroke-linecap="round"/>
<line x1="164.3" y1="310.5" x2="203.3" y2="310.5" stroke="#CC6677" stroke-width="1.7" stroke-linecap="butt"/>
<line x1="164.3" y1="295.5" x2="203.3" y2="295.5" stroke="#117733" stroke-width="1.7" stroke-dasharray="1.65 4.95 6.6 4.95" stroke-linecap="round"/>
<line x1="164.3" y1="312.3" x2="203.3" y2="312.3" stroke="#DDCC77" stroke-width="1.7" stroke-dasharray="6.6 6.6" stroke-linecap="round"/>
<line x1="164.3" y1="315.7" x2="203.3" y2="315.7" stroke="#332288" stroke-width="1.7" stroke-dasharray="1.65 4.95" stroke-linecap="round"/>
<line x1="211.6" y1="333.1" x2="250.5" y2="333.1" stroke="#CC6677" stroke-width="1.7" stroke-linecap="butt"/>
<line x1="211.6" y1="322.4" x2="250.5" y2="322.4" stroke="#117733" stroke-width="1.7" stroke-dasharray="1.65 4.95 6.6 4.95" stroke-linecap="round"/>
<line x1="211.6" y1="333.5" x2="250.5" y2="333.5" stroke="#DDCC77" stroke-width="1.7" stroke-dasharray="6.6 6.6" stroke-linecap="round"/>
<line x1="211.6" y1="332.6" x2="250.5" y2="332.6" stroke="#332288" stroke-width="1.7" stroke-dasharray="1.65 4.95" stroke-linecap="round"/>
<line x1="258.7" y1="344.7" x2="297.5" y2="344.7" stroke="#CC6677" stroke-width="1.7" stroke-linecap="butt"/>
<line x1="258.7" y1="336" x2="297.5" y2="336" stroke="#117733" stroke-width="1.7" stroke-dasharray="1.65 4.95 6.6 4.95" stroke-linecap="round"/>
<line x1="258.7" y1="347.5" x2="297.5" y2="347.5" stroke="#DDCC77" stroke-width="1.7" stroke-dasharray="6.6 6.6" stroke-linecap="round"/>
<line x1="258.7" y1="351.6" x2="297.5" y2="351.6" stroke="#332288" stroke-width="1.7" stroke-dasharray="1.65 4.95" stroke-linecap="round"/>
<line x1="305.5" y1="430.5" x2="344.9" y2="430.5" stroke="#CC6677" stroke-width="1.7" stroke-linecap="butt"/>
<line x1="305.5" y1="412.8" x2="344.9" y2="412.8" stroke="#117733" stroke-width="1.7" stroke-dasharray="1.65 4.95 6.6 4.95" stroke-linecap="round"/>
<line x1="305.5" y1="401.6" x2="344.9" y2="401.6" stroke="#DDCC77" stroke-width="1.7" stroke-dasharray="6.6 6.6" stroke-linecap="round"/>
<line x1="305.5" y1="408" x2="344.9" y2="408" stroke="#332288" stroke-width="1.7" stroke-dasharray="1.65 4.95" stroke-linecap="round"/>
<rect x="60" y="269.5" width="295" height="204" fill="none" stroke="#333" stroke-width="1"/>
<line x1="53" y1="465.6" x2="60" y2="465.6" stroke="#333" stroke-width="1"/>
<text x="46.9" y="469.5" text-anchor="end" class="tk">100</text>
<line x1="53" y1="436.6" x2="60" y2="436.6" stroke="#333" stroke-width="1"/>
<text x="46.9" y="440.5" text-anchor="end" class="tk">126</text>
<line x1="53" y1="407.6" x2="60" y2="407.6" stroke="#333" stroke-width="1"/>
<text x="46.9" y="411.5" text-anchor="end" class="tk">158</text>
<line x1="53" y1="378.6" x2="60" y2="378.6" stroke="#333" stroke-width="1"/>
<text x="46.9" y="382.5" text-anchor="end" class="tk">200</text>
<line x1="53" y1="349.6" x2="60" y2="349.6" stroke="#333" stroke-width="1"/>
<text x="46.9" y="353.5" text-anchor="end" class="tk">251</text>
<line x1="53" y1="320.6" x2="60" y2="320.6" stroke="#333" stroke-width="1"/>
<text x="46.9" y="324.5" text-anchor="end" class="tk">316</text>
<line x1="53" y1="291.6" x2="60" y2="291.6" stroke="#333" stroke-width="1"/>
<text x="46.9" y="295.5" text-anchor="end" class="tk">398</text>
<line x1="91.4" y1="473.5" x2="91.4" y2="480.7" stroke="#333" stroke-width="1"/>
<text x="91.4" y="497.2" text-anchor="middle" class="tk">M</text>
<line x1="137.8" y1="473.5" x2="137.8" y2="480.7" stroke="#333" stroke-width="1"/>
<text x="137.8" y="497.2" text-anchor="middle" class="tk">J</text>
<line x1="184.2" y1="473.5" x2="184.2" y2="480.7" stroke="#333" stroke-width="1"/>
<text x="184.2" y="497.2" text-anchor="middle" class="tk">J</text>
<line x1="230.6" y1="473.5" x2="230.6" y2="480.7" stroke="#333" stroke-width="1"/>
<text x="230.6" y="497.2" text-anchor="middle" class="tk">A</text>
<line x1="277" y1="473.5" x2="277" y2="480.7" stroke="#333" stroke-width="1"/>
<text x="277" y="497.2" text-anchor="middle" class="tk">S</text>
<line x1="323.4" y1="473.5" x2="323.4" y2="480.7" stroke="#333" stroke-width="1"/>
<text x="323.4" y="497.2" text-anchor="middle" class="tk">O</text>
<text x="207.2" y="517" text-anchor="middle" class="xt">Month</text>
<text x="74" y="287" class="pl">C.</text>
<text transform="translate(66 451.6) scale(0.951 1)" class="st">F<tspan font-size="7.0" dy="2.0">[15.0, 2907.2]</tspan><tspan dy="-2.0"> = 2.309</tspan></text>
<text transform="translate(66 466) scale(0.951 1)" class="st">p<tspan font-size="7.0" dy="2.0">CC:Month</tspan><tspan dy="-2.0"> = 0.0029**</tspan></text>
<line x1="168.6" y1="434" x2="183.5" y2="434" stroke="#CC6677" stroke-width="1.4" stroke-linecap="butt"/>
<text x="190.8" y="437.1" class="lg" fill="#CC6677">legumes</text>
<line x1="168.6" y1="444" x2="183.5" y2="444" stroke="#117733" stroke-width="1.4" stroke-dasharray="1.9 3.1 5.2 3.7" stroke-linecap="butt"/>
<text x="190.8" y="447.1" class="lg" fill="#117733">grasses</text>
<line x1="168.6" y1="453.6" x2="183.5" y2="453.6" stroke="#DDCC77" stroke-width="1.4" stroke-dasharray="5 4.9" stroke-linecap="butt"/>
<text x="190.8" y="456.7" class="lg" fill="#DDCC77">asters</text>
<line x1="168.6" y1="463.4" x2="183.5" y2="463.4" stroke="#332288" stroke-width="1.4" stroke-dasharray="1.9 3.1" stroke-linecap="butt"/>
<text x="190.8" y="466.5" class="lg" fill="#332288">multiple-families</text>
<text transform="translate(15.0 371.45) rotate(-90)" text-anchor="middle" class="yt">Soil Respiration (mgCO<tspan font-size="9.5" dy="2.6">2</tspan><tspan dy="-2.6">-C m</tspan><tspan font-size="9.5" dy="-6.2">-2</tspan><tspan dy="6.2"> h</tspan><tspan font-size="9.5" dy="-6.2">-1</tspan><tspan dy="6.2">)</tspan></text>
<line x1="398.6" y1="270.5" x2="398.6" y2="472.5" stroke="#7FBF7B" stroke-opacity="0.2" stroke-width="1.8"/>
<path d="M398.6 343.58v2.16M398.6 370.36v1.79M398.6 432.54v0.93M398.6 427.05v1.19M398.6 321.85v1.74M398.6 353.34v2.14M398.6 349.07v1.55M398.6 324.9v1.56M398.6 406.25v0.8M398.6 361.81v1.01M398.6 406.06v1.93M398.6 326.5v1.14M398.6 423.71v1.55M398.6 369.85v1.76M398.6 284.87v1.63M398.6 326.74v1.87M398.6 384.78v1.7M398.6 294.85v1.23M398.6 440.5v1.62M398.6 401.28v1.77M398.6 447.46v0.9M398.6 421.97v2.15M398.6 294.5v1.67M398.6 382.71v2.17" stroke="#1B7837" stroke-width="1.8" stroke-opacity="0.42" fill="none"/>
<path d="M398.6 451.73v2.01M398.6 332.93v0.84M398.6 406.52v0.92M398.6 396.53v2M398.6 402.48v1.14M398.6 407.37v2.08M398.6 352.02v2.17M398.6 448.29v1.88M398.6 353.99v1.67M398.6 388.27v1.41M398.6 377v2.07M398.6 358.89v1.68M398.6 384.64v0.93M398.6 318.36v1.82M398.6 360.85v1.26M398.6 351.03v0.99M398.6 345.15v1.31M398.6 472.25v2M398.6 350v1.84M398.6 393.52v1.33M398.6 334.35v1.95" stroke="#1B7837" stroke-width="1.8" stroke-opacity="0.42" fill="none"/>
<path d="M398.6 403.59v1.58M398.6 363.37v1.27M398.6 448v0.94M398.6 362.85v1.75M398.6 467.55v1.15M398.6 429.57v1.51M398.6 427.68v1.14M398.6 343.25v1.68M398.6 346.51v0.88M398.6 399.73v1.19M398.6 425.34v1.68M398.6 398.02v1.98M398.6 346.68v1.82M398.6 354.63v1.2M398.6 340.47v1.36M398.6 413.25v1.5M398.6 419.73v2.13M398.6 407.97v1.05M398.6 364.98v1.9M398.6 379.36v0.96M398.6 429.15v1.98M398.6 453.92v0.96M398.6 410.78v1.34M398.6 330.16v1.32" stroke="#5aae61" stroke-width="1.8" stroke-opacity="0.42" fill="none"/>
<path d="M398.6 345.06v1.73M398.6 440.75v1.24M398.6 358.8v1.93M398.6 328.17v2.18M398.6 390.27v1.81M398.6 413.17v0.83M398.6 412.35v0.93M398.6 375.67v1.93M398.6 381.93v1.37M398.6 453.4v1.52M398.6 421.39v1.98M398.6 366.89v1.8M398.6 328.57v1.54M398.6 281.59v1.22M398.6 346.01v0.91M398.6 433.2v0.96M398.6 417.03v0.87M398.6 316.4v1.36M398.6 309.59v2.13M398.6 395.5v0.95M398.6 301.42v1.52M398.6 272.82v1.66M398.6 309.94v2.12M398.6 319.23v2.19" stroke="#7FBF7B" stroke-width="1.8" stroke-opacity="0.42" fill="none"/>
<path d="M398.6 346.15v1.72M398.6 434.38v1.61M398.6 472.25v1.79M398.6 442.68v1.41M398.6 458.67v1.89M398.6 402.64v1.97M398.6 312.14v1.1M398.6 378.74v1.54M398.6 454.76v1.24M398.6 360.84v0.98M398.6 407.95v1.39M398.6 395.74v1.65M398.6 356.49v1.52M398.6 379.78v1.34M398.6 377.91v1.58M398.6 451.31v1.51M398.6 341.58v0.84M398.6 352.48v1.77M398.6 277.81v1.9M398.6 415.64v1.45M398.6 361.77v1.71M398.6 312.93v1.14M398.6 294.51v1.82M398.6 283.4v1.44" stroke="#7FBF7B" stroke-width="1.8" stroke-opacity="0.42" fill="none"/>
<path d="M398.6 455.18v1.7M398.6 428.33v1.74M398.6 385.16v1.4M398.6 384.19v1.06M398.6 438.45v2.11M398.6 295.21v1.96M398.6 453.34v1.34M398.6 379.08v1.33M398.6 342.11v1.99M398.6 431.78v1.85M398.6 397.73v1.19M398.6 460.06v1.95M398.6 398.8v1.27M398.6 314.63v1.98M398.6 367.49v0.95M398.6 429.91v2.13M398.6 323.62v1.31M398.6 347.33v2.09M398.6 445.09v1.15M398.6 316.74v1.32M398.6 275.66v1.15M398.6 327.54v1.62M398.6 305.38v1.15M398.6 364.63v1.74M398.6 405.3v1.75M398.6 307.29v1.87" stroke="#AF8DC3" stroke-width="1.8" stroke-opacity="0.252" fill="none"/>
<line x1="453.4" y1="270.5" x2="453.4" y2="472.5" stroke="#7FBF7B" stroke-opacity="0.2" stroke-width="1.8"/>
<path d="M453.4 423.41v2.05M453.4 407.99v1.48M453.4 395.84v1.33M453.4 431.12v2M453.4 290.76v0.83M453.4 403.3v1.88M453.4 423.39v0.88M453.4 412.04v1.21M453.4 424.79v2.09M453.4 453.62v1.24M453.4 372.12v0.87M453.4 438.78v0.98M453.4 305.91v2.14M453.4 418.82v1.37M453.4 355.39v1.32M453.4 354.31v2.07M453.4 365.3v1.99" stroke="#1B7837" stroke-width="1.8" stroke-opacity="0.6" fill="none"/>
<path d="M453.4 333.2v1.15M453.4 377.89v0.97M453.4 469.21v2.05M453.4 300.4v1.33M453.4 447.64v1.44M453.4 413.85v1.02M453.4 379.18v1.37M453.4 472.42v2.05M453.4 392.06v2.07M453.4 375.85v1.07M453.4 293.85v1.7M453.4 282.72v1M453.4 402.95v1.51M453.4 359.24v1.9M453.4 281.43v1.16M453.4 408.04v1.62M453.4 290.02v1.07M453.4 427.03v1.19" stroke="#1B7837" stroke-width="1.8" stroke-opacity="0.6" fill="none"/>
<path d="M453.4 455.54v1.7M453.4 388.1v1.27M453.4 415.88v1.1M453.4 378.11v1.25M453.4 379.81v1.87M453.4 359.41v1.38M453.4 426.41v1.64M453.4 466.27v1.16M453.4 451.16v1.67M453.4 418.09v0.86M453.4 367.12v0.88M453.4 315.87v1.1M453.4 379.45v1.91M453.4 457.07v1.05M453.4 337.1v1.39M453.4 406.36v2.19M453.4 442.52v1.13M453.4 304.8v1M453.4 355.17v1.19M453.4 293.22v1.54M453.4 471.9v2.06M453.4 343.55v0.84M453.4 283.24v1.54" stroke="#5aae61" stroke-width="1.8" stroke-opacity="0.6" fill="none"/>
<path d="M453.4 345.8v0.82M453.4 439.67v2.19M453.4 349.13v1.44M453.4 433.74v1.75M453.4 437.08v1.16M453.4 396.9v1.46M453.4 335.12v1.95M453.4 406.22v0.97M453.4 391.46v1.1M453.4 376.73v1.22M453.4 347.39v1.95M453.4 410.09v2.06M453.4 356.83v1.85M453.4 428.21v1.14M453.4 407.55v1.24M453.4 322.69v1.83M453.4 379.25v1.42M453.4 294.73v1.29M453.4 322.47v2.19M453.4 419.78v1.16M453.4 392.17v1.89M453.4 368.56v1.05M453.4 352.92v2.08" stroke="#7FBF7B" stroke-width="1.8" stroke-opacity="0.6" fill="none"/>
<path d="M453.4 432.25v1.2M453.4 332.41v2.09M453.4 438.36v1.79M453.4 358.49v2.02M453.4 426.51v1.69M453.4 342.83v0.94M453.4 347.29v1.36M453.4 382.01v2.17M453.4 399.81v0.97M453.4 383.18v1.55M453.4 435.3v1.53M453.4 348.62v1.41M453.4 428.36v1.19M453.4 395.75v1.23M453.4 425.25v1.09M453.4 404.5v1.17M453.4 356.56v0.85M453.4 386.86v1.85M453.4 436.58v2.05M453.4 299.98v1.11M453.4 360.62v0.88M453.4 313.34v1.34M453.4 306.3v0.95M453.4 429.5v1.4M453.4 331.43v1.16M453.4 404.08v1.61M453.4 295.73v1.84M453.4 422.94v2.03M453.4 344.19v1.8M453.4 421.62v1.96M453.4 327.99v2.19" stroke="#7FBF7B" stroke-width="1.8" stroke-opacity="0.6" fill="none"/>
<path d="M453.4 390.67v1.36M453.4 377.41v1.02M453.4 447.36v1.04M453.4 388.64v1.45M453.4 388.28v1.77M453.4 440.71v1.96M453.4 334.27v1.03M453.4 378.46v1.53M453.4 332.72v0.91M453.4 305.2v1.6M453.4 461.46v2.01M453.4 330.57v1.28M453.4 299.16v1.75M453.4 437.92v1.69M453.4 368.39v1.73M453.4 352.43v1.06M453.4 299.07v1.51M453.4 413v0.88M453.4 308.52v1.38M453.4 457.9v0.87M453.4 306.42v2.15" stroke="#AF8DC3" stroke-width="1.8" stroke-opacity="0.36" fill="none"/>
<line x1="508.2" y1="270.5" x2="508.2" y2="472.5" stroke="#7FBF7B" stroke-opacity="0.2" stroke-width="1.8"/>
<path d="M508.2 395.52v1.08M508.2 414.16v2.1M508.2 346.29v1.35M508.2 356.16v1.85M508.2 397.45v2.17M508.2 450.42v1.12M508.2 439.35v0.89M508.2 394.2v0.85M508.2 391.72v1.4M508.2 432.77v1.95M508.2 459.09v1.92M508.2 458.54v1.63M508.2 341.18v0.8" stroke="#1B7837" stroke-width="1.8" stroke-opacity="0.45" fill="none"/>
<path d="M508.2 424.04v1.14M508.2 399.76v1.01M508.2 428.39v1.02M508.2 363v0.99M508.2 368.26v0.85M508.2 369.86v1.51M508.2 362.79v1.28M508.2 330.12v1.29M508.2 427.1v1.19M508.2 325.77v1.91M508.2 357.07v1.21M508.2 442.95v1.02M508.2 323.86v1.2M508.2 346.93v1.15" stroke="#1B7837" stroke-width="1.8" stroke-opacity="0.45" fill="none"/>
<path d="M508.2 352.09v1.29M508.2 375.35v1.33M508.2 397.58v1.12M508.2 390.82v1.68M508.2 323.31v1.02M508.2 335.94v2.07M508.2 332.13v2.04M508.2 386.08v1.49M508.2 313.35v1.82M508.2 422.74v1.1M508.2 385.23v1.21M508.2 429.77v2.07M508.2 381.96v1.46M508.2 403.97v1.84M508.2 455.07v1.94M508.2 368.85v1.78M508.2 457.57v1.43M508.2 353.03v1.33M508.2 402.53v0.88M508.2 280.71v2.01" stroke="#5aae61" stroke-width="1.8" stroke-opacity="0.45" fill="none"/>
<path d="M508.2 391.86v1.77M508.2 380.53v0.89M508.2 332.77v1.97M508.2 387.7v1.2M508.2 410.85v1.99M508.2 346.22v1.01M508.2 383.47v0.83M508.2 391.83v2M508.2 370.8v2.05M508.2 342.99v1.49M508.2 383.98v2.08M508.2 417.78v0.93M508.2 278.74v1.01M508.2 305.44v2.16M508.2 427.24v2.12M508.2 398.72v1.77M508.2 419.64v1.27M508.2 418.93v1.8M508.2 307.37v0.8M508.2 470.73v1.3M508.2 396.59v1.99M508.2 415.54v1.12" stroke="#7FBF7B" stroke-width="1.8" stroke-opacity="0.45" fill="none"/>
<path d="M508.2 431.02v0.98M508.2 425.44v1.49M508.2 406.27v1.74M508.2 282.06v1.24M508.2 462.81v1.95M508.2 431.19v2.07M508.2 381.94v1.1M508.2 378.99v1.34M508.2 354.43v1.97M508.2 362.61v1.5M508.2 385.84v1.85M508.2 290.65v1.24M508.2 367.14v1.95M508.2 454.09v1.97M508.2 314.59v1.89M508.2 375.67v2.03M508.2 380.49v1.35M508.2 347.07v1.52M508.2 279.12v1.93M508.2 444.3v1.81M508.2 325.79v1.55M508.2 352.48v0.85M508.2 351.26v1.1" stroke="#7FBF7B" stroke-width="1.8" stroke-opacity="0.45" fill="none"/>
<path d="M508.2 408.71v1.44M508.2 454.01v1.85M508.2 400.34v2.07M508.2 370.62v2.18M508.2 297.21v1.34M508.2 424.72v2.15M508.2 312.67v1.33M508.2 296.89v1.05M508.2 380.75v2.1M508.2 342.25v0.95M508.2 393.36v1.47M508.2 406.22v1.89M508.2 367.88v1.68M508.2 429.66v1.99M508.2 442.25v1.54M508.2 384.17v1.42M508.2 426.16v1.27M508.2 280.46v1.67M508.2 301.77v1.59M508.2 400.06v1.51M508.2 388.22v1.75M508.2 374.98v1.51M508.2 315v1.77M508.2 299.4v1.5M508.2 425.14v1.89" stroke="#AF8DC3" stroke-width="1.8" stroke-opacity="0.27" fill="none"/>
<line x1="617.8" y1="270.5" x2="617.8" y2="472.5" stroke="#7FBF7B" stroke-opacity="0.2" stroke-width="1.8"/>
<path d="M617.8 365.57v1.34M617.8 416.16v1.05M617.8 440.45v0.97M617.8 422.2v1.27M617.8 385.06v0.85M617.8 404.68v1.06M617.8 321.11v1.06M617.8 344.38v1.56" stroke="#1B7837" stroke-width="1.8" stroke-opacity="0.28" fill="none"/>
<path d="M617.8 384.35v1.4M617.8 416.72v0.95M617.8 390.45v2.19M617.8 359.34v1.85M617.8 452.48v1.76M617.8 336.96v1.7M617.8 419.4v1.82M617.8 336.03v1.07M617.8 355.39v1.82M617.8 351.12v1.32M617.8 433.91v1.08M617.8 440.01v1.21M617.8 296.78v1.96" stroke="#1B7837" stroke-width="1.8" stroke-opacity="0.28" fill="none"/>
<path d="M617.8 331.25v1.38M617.8 399.36v2.03M617.8 310.78v2.19M617.8 339.32v2.12M617.8 270.92v1.47M617.8 395.2v1.59M617.8 379.52v1.65M617.8 471.66v0.93M617.8 323.1v1.86M617.8 388.36v1.93M617.8 335.06v1.08M617.8 339.44v1.28M617.8 461.53v1.69M617.8 312.84v2.14M617.8 437.13v1.3M617.8 405.42v2.03M617.8 303.13v0.9M617.8 329.41v1.57M617.8 401.27v1.22M617.8 297.71v2.01M617.8 443.07v1.06M617.8 408.14v0.93M617.8 397.23v1.34M617.8 361.35v1.86M617.8 411.51v1.83" stroke="#5aae61" stroke-width="1.8" stroke-opacity="0.28" fill="none"/>
<path d="M617.8 347.32v1.28M617.8 362.25v1.82M617.8 368.05v1.01M617.8 362.15v1.43M617.8 363.26v2.03M617.8 450.98v1.03M617.8 468.63v1.14M617.8 294.14v1.31M617.8 465.19v1.1M617.8 363v1.55M617.8 335.3v1.39M617.8 325.37v1.63M617.8 322.88v0.83M617.8 454.17v1.94M617.8 302.08v1.36M617.8 412.78v0.9M617.8 424.72v1.67" stroke="#7FBF7B" stroke-width="1.8" stroke-opacity="0.28" fill="none"/>
<path d="M617.8 399.25v1.05M617.8 462.21v1.1M617.8 444.19v1.86M617.8 396.82v0.9M617.8 311.19v2.13M617.8 293.24v1.14M617.8 358.37v1.65M617.8 438.8v0.97M617.8 421.56v2.2" stroke="#7FBF7B" stroke-width="1.8" stroke-opacity="0.28" fill="none"/>
<path d="M617.8 318.69v2.14M617.8 391.75v1.72M617.8 379.74v1.17M617.8 339.32v1.31M617.8 357.36v1.61M617.8 417.92v1.19M617.8 355.64v1.62M617.8 328.14v2.07M617.8 386.13v1.01M617.8 360.02v1.18M617.8 399.15v2.15M617.8 329.43v2.01M617.8 325.12v0.85M617.8 323.74v0.94" stroke="#AF8DC3" stroke-width="1.8" stroke-opacity="0.168" fill="none"/>
<line x1="672.6" y1="270.5" x2="672.6" y2="472.5" stroke="#7FBF7B" stroke-opacity="0.2" stroke-width="1.8"/>
<path d="M672.6 413.93v1.51M672.6 444.33v1.54M672.6 387.42v1.28M672.6 388.16v1.54M672.6 363.19v0.93M672.6 336.18v1.65M672.6 388.27v1.28M672.6 438.94v1.72M672.6 436.85v1.65M672.6 434.42v2.19M672.6 423.99v1.83M672.6 367.81v0.81M672.6 376.32v0.97M672.6 470.61v1.49M672.6 417.15v1.56M672.6 347.55v1.47" stroke="#1B7837" stroke-width="1.8" stroke-opacity="0.45" fill="none"/>
<path d="M672.6 366.86v1.83M672.6 383.64v2.11M672.6 354.07v0.89M672.6 368.07v1.68M672.6 375.75v1.2M672.6 398.12v1.35M672.6 352.57v2.14M672.6 410.02v0.89M672.6 316.32v1.09M672.6 449.1v1.51M672.6 352.44v1.85M672.6 315.35v2.13" stroke="#1B7837" stroke-width="1.8" stroke-opacity="0.45" fill="none"/>
<path d="M672.6 363.74v2.16M672.6 358.13v2.1M672.6 391.04v1.89M672.6 394.36v1.43M672.6 366.29v1.2M672.6 438.7v2.01M672.6 360.14v1.85M672.6 336.87v1.79M672.6 416.78v1.88M672.6 375.11v2.08M672.6 271.66v1.56M672.6 413.41v1.16M672.6 270.52v0.82M672.6 311.02v1.14M672.6 381.84v1.72M672.6 394.36v1.32M672.6 409.56v1.08M672.6 386.46v0.99M672.6 308.59v0.85M672.6 346.78v1.6M672.6 367.41v1.72M672.6 276.55v2.14M672.6 460.48v1.89" stroke="#5aae61" stroke-width="1.8" stroke-opacity="0.45" fill="none"/>
<path d="M672.6 404.97v1.02M672.6 392.8v1.09M672.6 360.5v2.15M672.6 356.59v1.21M672.6 376.75v1.56M672.6 428.04v1.93M672.6 407.93v1.7M672.6 315.78v0.85M672.6 304.98v1.46M672.6 456.98v1.55M672.6 391.53v1.55M672.6 377.42v0.96M672.6 399.7v2.15M672.6 351.23v1.5M672.6 312.01v1.74M672.6 448.21v1.87M672.6 325.87v1.15" stroke="#7FBF7B" stroke-width="1.8" stroke-opacity="0.45" fill="none"/>
<path d="M672.6 378.62v0.84M672.6 427.51v1.66M672.6 448.73v2.07M672.6 400.57v2.05M672.6 392.35v2.03M672.6 443.16v1.09M672.6 345.49v2.04M672.6 292.34v0.91M672.6 430.49v1.2M672.6 363.15v1.96M672.6 394.64v0.93M672.6 469.59v1.89M672.6 388.23v1.91M672.6 391.14v2.07M672.6 303.42v2M672.6 352.9v1.8M672.6 368.9v1.03M672.6 313.68v0.96M672.6 413.96v0.91M672.6 346.78v1.24" stroke="#7FBF7B" stroke-width="1.8" stroke-opacity="0.45" fill="none"/>
<path d="M672.6 397.21v1.24M672.6 389.29v2.19M672.6 341.14v2M672.6 371.84v0.93M672.6 302.85v1.46M672.6 319.93v1.92M672.6 470.25v1.35M672.6 343.26v1.53M672.6 339.64v2.03M672.6 376.82v2.08M672.6 459.76v1.04M672.6 324.44v1.95M672.6 447.3v1.43M672.6 432.57v0.83M672.6 462.18v1.22M672.6 387.05v2.05M672.6 470.32v1.06M672.6 359.37v1.03M672.6 321.46v2.14M672.6 281.28v1.41M672.6 275.58v2.08M672.6 276.13v1.19M672.6 408.84v0.89M672.6 272.83v2.08M672.6 314.48v1.25M672.6 432.21v2.12" stroke="#AF8DC3" stroke-width="1.8" stroke-opacity="0.27" fill="none"/>
<line x1="398.6" y1="302.7" x2="672.6" y2="305.6" stroke="#E7D4E8" stroke-width="1.7" stroke-dasharray="1.65 4.95" stroke-linecap="round"/>
<line x1="398.6" y1="321" x2="672.6" y2="323" stroke="#D9F0D3" stroke-width="1.7" stroke-dasharray="1.65 4.95 6.6 4.95" stroke-linecap="round"/>
<line x1="398.6" y1="341.8" x2="672.6" y2="342.9" stroke="#7FBF7B" stroke-width="1.7" stroke-dasharray="11.55 4.95" stroke-linecap="round"/>
<line x1="398.6" y1="326.4" x2="672.6" y2="304.8" stroke="#AF8DC3" stroke-width="1.7" stroke-dasharray="6.6 6.6" stroke-linecap="round"/>
<line x1="398.6" y1="387.9" x2="672.6" y2="372.6" stroke="#762A83" stroke-width="1.7" stroke-linecap="butt"/>
<line x1="398.6" y1="405.9" x2="672.6" y2="391.2" stroke="#1B7837" stroke-width="1.7" stroke-dasharray="1.65 4.95 6.6 4.95" stroke-linecap="round"/>
<rect x="388" y="269.5" width="294.5" height="204" fill="none" stroke="#333" stroke-width="1"/>
<line x1="381" y1="466" x2="388" y2="466" stroke="#333" stroke-width="1"/>
<text x="374.9" y="469.9" text-anchor="end" class="tk">100</text>
<line x1="381" y1="434.6" x2="388" y2="434.6" stroke="#333" stroke-width="1"/>
<text x="374.9" y="438.5" text-anchor="end" class="tk">126</text>
<line x1="381" y1="403.2" x2="388" y2="403.2" stroke="#333" stroke-width="1"/>
<text x="374.9" y="407.1" text-anchor="end" class="tk">158</text>
<line x1="381" y1="371.8" x2="388" y2="371.8" stroke="#333" stroke-width="1"/>
<text x="374.9" y="375.7" text-anchor="end" class="tk">200</text>
<line x1="381" y1="340.4" x2="388" y2="340.4" stroke="#333" stroke-width="1"/>
<text x="374.9" y="344.3" text-anchor="end" class="tk">251</text>
<line x1="381" y1="309" x2="388" y2="309" stroke="#333" stroke-width="1"/>
<text x="374.9" y="312.9" text-anchor="end" class="tk">316</text>
<line x1="381" y1="277.6" x2="388" y2="277.6" stroke="#333" stroke-width="1"/>
<text x="374.9" y="281.5" text-anchor="end" class="tk">398</text>
<line x1="398.6" y1="473.5" x2="398.6" y2="480.7" stroke="#333" stroke-width="1"/>
<text x="398.6" y="497.2" text-anchor="middle" class="tk">1</text>
<line x1="453.4" y1="473.5" x2="453.4" y2="480.7" stroke="#333" stroke-width="1"/>
<text x="453.4" y="497.2" text-anchor="middle" class="tk">2</text>
<line x1="508.2" y1="473.5" x2="508.2" y2="480.7" stroke="#333" stroke-width="1"/>
<text x="508.2" y="497.2" text-anchor="middle" class="tk">3</text>
<line x1="563" y1="473.5" x2="563" y2="480.7" stroke="#333" stroke-width="1"/>
<text x="563" y="497.2" text-anchor="middle" class="tk">4</text>
<line x1="617.8" y1="473.5" x2="617.8" y2="480.7" stroke="#333" stroke-width="1"/>
<text x="617.8" y="497.2" text-anchor="middle" class="tk">5</text>
<line x1="672.6" y1="473.5" x2="672.6" y2="480.7" stroke="#333" stroke-width="1"/>
<text x="672.6" y="497.2" text-anchor="middle" class="tk">6</text>
<text x="535.3" y="514" text-anchor="middle" class="xt">Plant Richness (S)</text>
<text x="402.5" y="287" class="pl">D.</text>
<text transform="translate(393.6 451.4) scale(0.951 1)" class="st">F<tspan font-size="7.0" dy="2.0">[5.0, 2922.3]</tspan><tspan dy="-2.0"> = 2.066</tspan></text>
<text transform="translate(393.6 465.6) scale(0.951 1)" class="st">p<tspan font-size="7.0" dy="2.0">Month:S</tspan><tspan dy="-2.0"> = 0.067&#183;</tspan></text>
<line x1="516" y1="414.1" x2="531.3" y2="414.1" stroke="#762A83" stroke-width="1.4" stroke-linecap="butt"/>
<text x="538.6" y="417.2" class="lg" fill="#762A83">May</text>
<line x1="516" y1="424.1" x2="531.3" y2="424.1" stroke="#AF8DC3" stroke-width="1.4" stroke-dasharray="5 4.9" stroke-linecap="butt"/>
<text x="538.6" y="427.2" class="lg" fill="#AF8DC3">June</text>
<line x1="516" y1="433.9" x2="531.3" y2="433.9" stroke="#E7D4E8" stroke-width="1.4" stroke-dasharray="1.9 3.1" stroke-linecap="butt"/>
<text x="538.6" y="437" class="lg" fill="#E7D4E8">July</text>
<line x1="516" y1="443.8" x2="531.3" y2="443.8" stroke="#D9F0D3" stroke-width="1.4" stroke-dasharray="1.9 3.1 5.2 3.7" stroke-linecap="butt"/>
<text x="538.6" y="446.9" class="lg" fill="#D9F0D3">Aug.</text>
<line x1="516" y1="453.3" x2="531.3" y2="453.3" stroke="#7FBF7B" stroke-width="1.4" stroke-dasharray="8.8 4.1" stroke-linecap="butt"/>
<text x="538.6" y="456.4" class="lg" fill="#7FBF7B">Sept.</text>
<line x1="516" y1="463.2" x2="531.3" y2="463.2" stroke="#1B7837" stroke-width="1.4" stroke-dasharray="1.9 3.1 5.2 3.7" stroke-linecap="butt"/>
<text x="538.6" y="466.3" class="lg" fill="#1B7837">Oct.</text>
</svg></body></html>
